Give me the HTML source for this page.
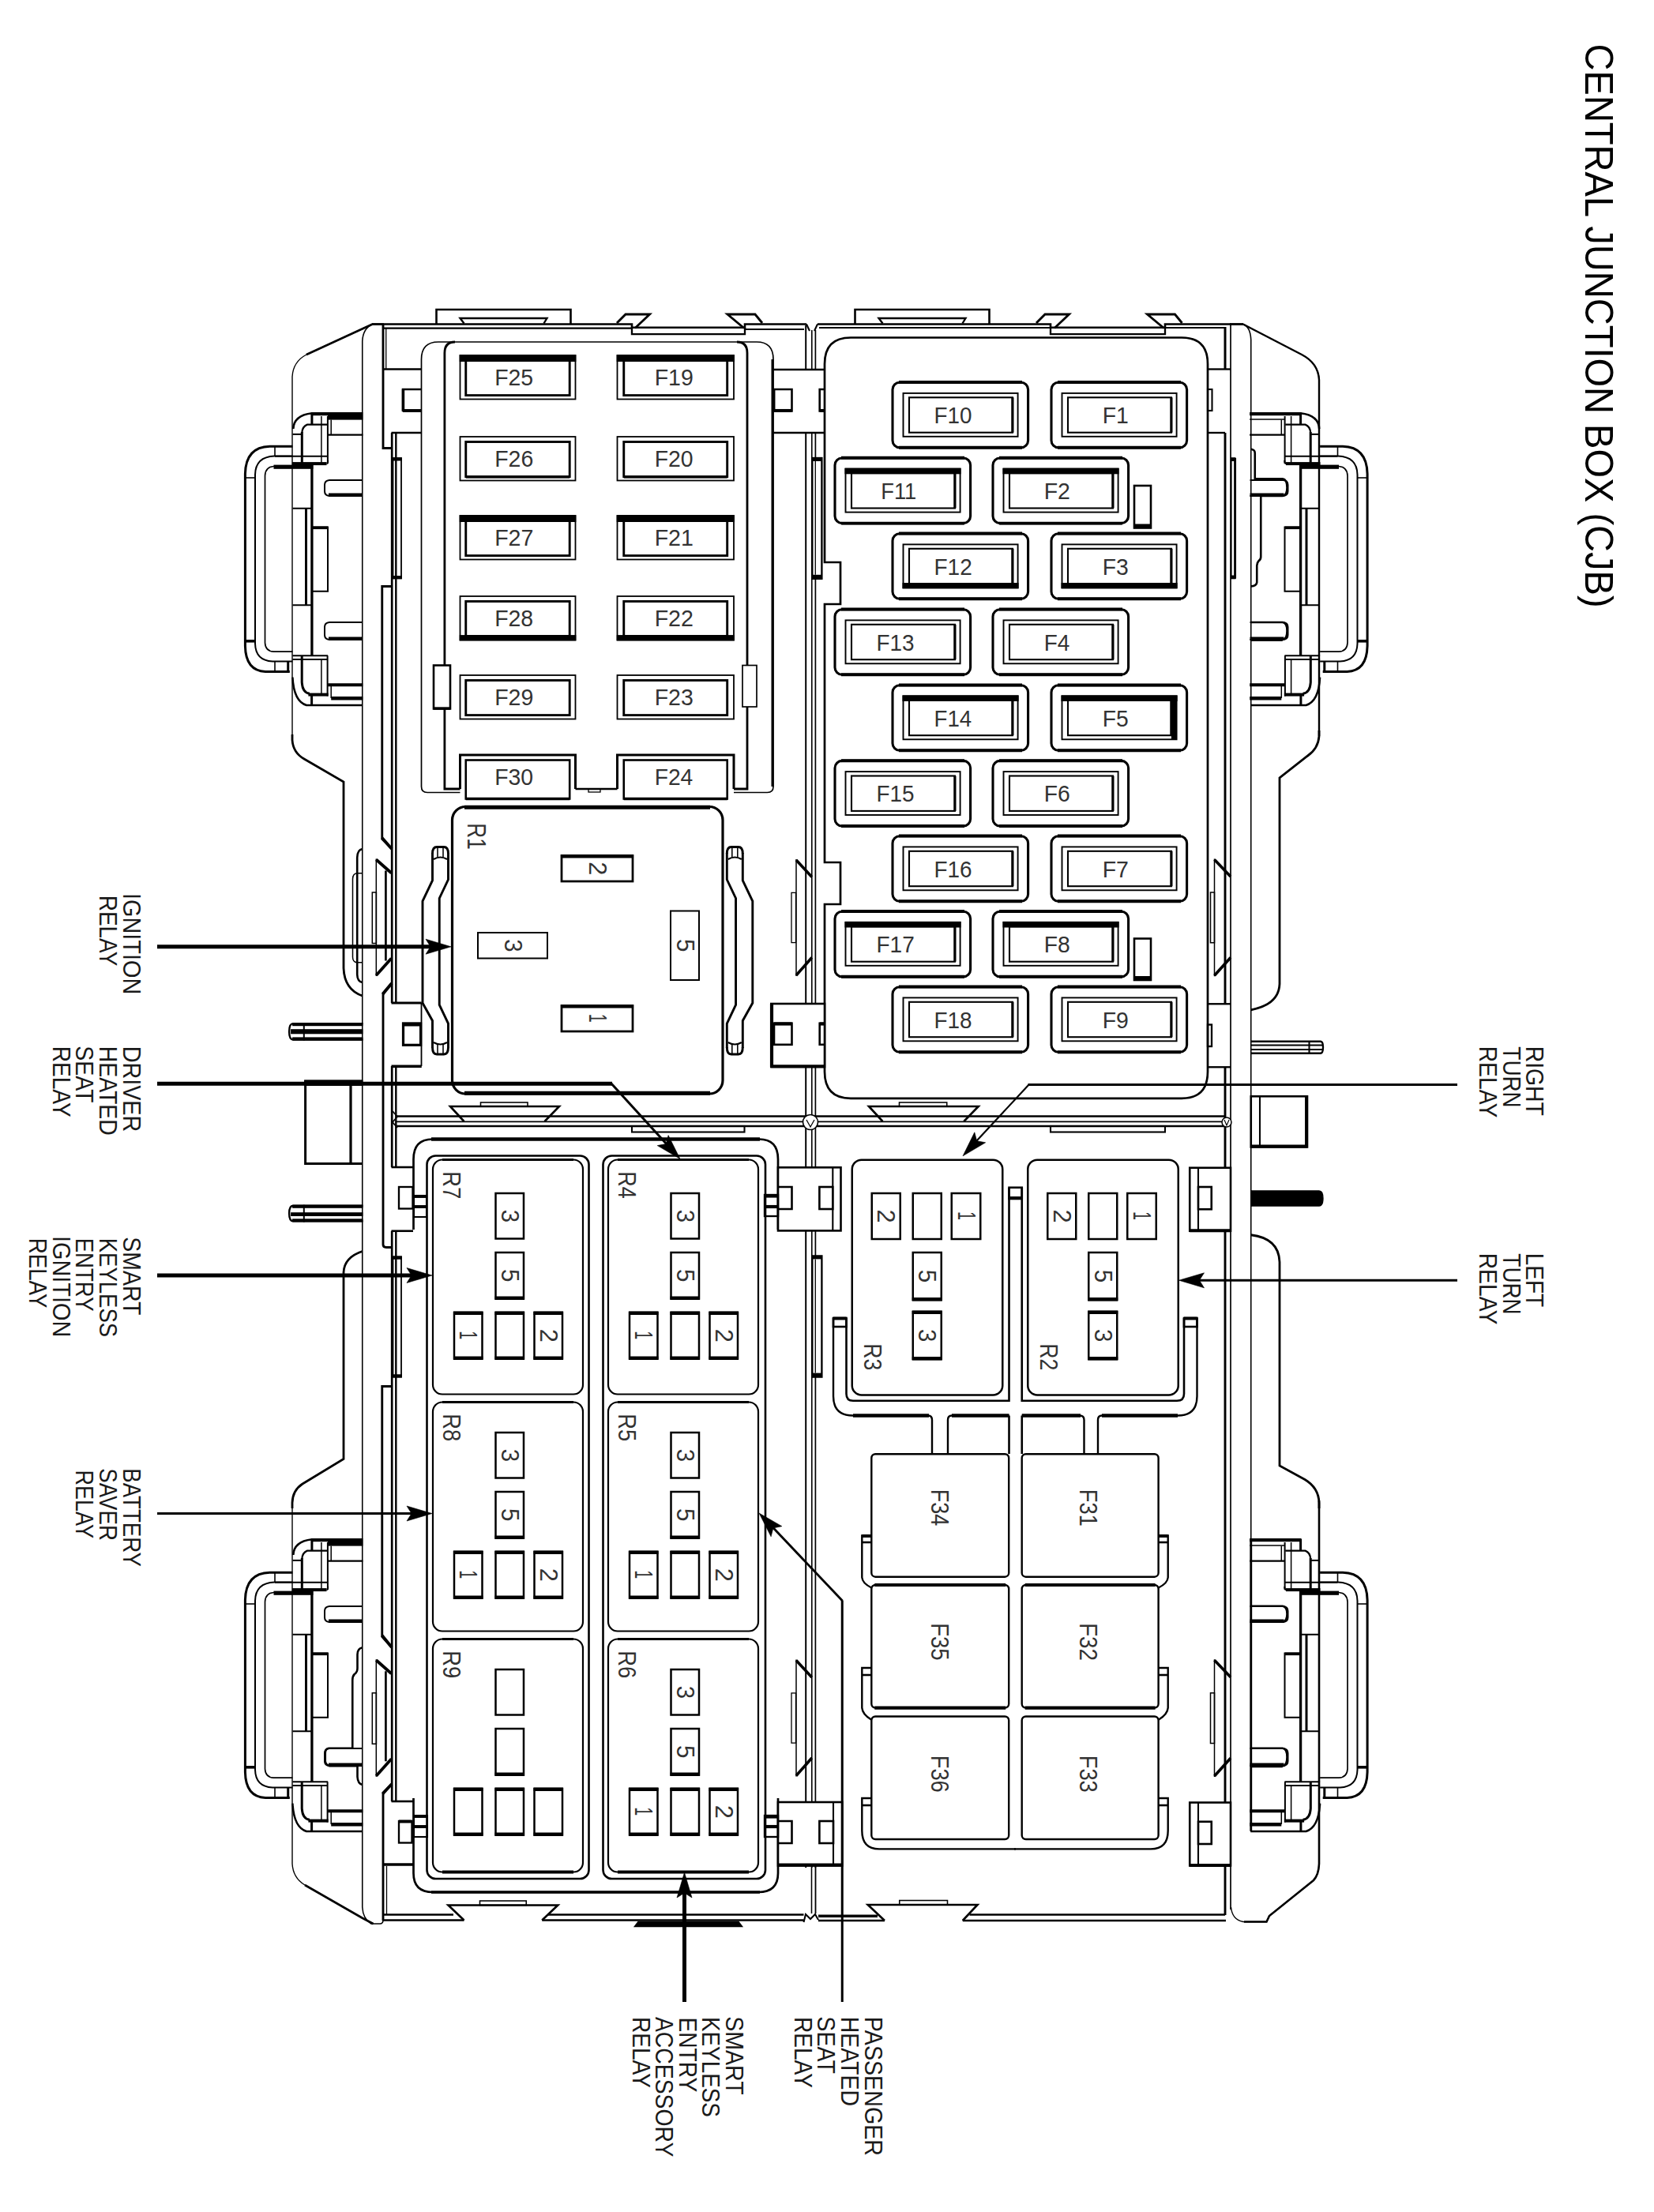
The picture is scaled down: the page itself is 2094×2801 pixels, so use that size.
<!DOCTYPE html>
<html><head><meta charset="utf-8"><title>Central Junction Box (CJB)</title>
<style>
html,body{margin:0;padding:0;background:#fff;}
body{width:2094px;height:2801px;overflow:hidden;font-family:"Liberation Sans",sans-serif;}
svg{display:block;}
svg text{font-family:"Liberation Sans",sans-serif;}
</style></head><body>
<svg width="2094" height="2801" viewBox="0 0 2094 2801" fill="none" stroke="#000" stroke-linecap="butt" stroke-linejoin="miter">
<rect x="0" y="0" width="2094" height="2801" fill="#fff" stroke="none"/>
<text transform="translate(2007.00 55.61) rotate(90) scale(0.9246 1)" font-size="50.87" fill="#000" stroke="none">CENTRAL JUNCTION BOX (CJB)</text>
<text transform="translate(156.00 1130.93) rotate(90) scale(0.9334 1)" font-size="30.96" fill="#1a1a1a" stroke="none">IGNITION</text>
<text transform="translate(126.20 1133.71) rotate(90) scale(0.9030 1)" font-size="30.96" fill="#1a1a1a" stroke="none">RELAY</text>
<text transform="translate(156.00 1324.64) rotate(90) scale(0.9292 1)" font-size="30.96" fill="#1a1a1a" stroke="none">DRIVER</text>
<text transform="translate(126.20 1324.67) rotate(90) scale(0.9182 1)" font-size="30.96" fill="#1a1a1a" stroke="none">HEATED</text>
<text transform="translate(96.40 1324.21) rotate(90) scale(0.9196 1)" font-size="30.96" fill="#1a1a1a" stroke="none">SEAT</text>
<text transform="translate(66.80 1324.70) rotate(90) scale(0.9062 1)" font-size="30.96" fill="#1a1a1a" stroke="none">RELAY</text>
<text transform="translate(156.00 1566.31) rotate(90) scale(0.9197 1)" font-size="30.96" fill="#1a1a1a" stroke="none">SMART</text>
<text transform="translate(126.20 1567.74) rotate(90) scale(0.8895 1)" font-size="30.96" fill="#1a1a1a" stroke="none">KEYLESS</text>
<text transform="translate(96.40 1567.74) rotate(90) scale(0.8898 1)" font-size="30.96" fill="#1a1a1a" stroke="none">ENTRY</text>
<text transform="translate(66.80 1564.93) rotate(90) scale(0.9334 1)" font-size="30.96" fill="#1a1a1a" stroke="none">IGNITION</text>
<text transform="translate(37.20 1567.73) rotate(90) scale(0.8937 1)" font-size="30.96" fill="#1a1a1a" stroke="none">RELAY</text>
<text transform="translate(156.00 1859.23) rotate(90) scale(0.8924 1)" font-size="30.96" fill="#1a1a1a" stroke="none">BATTERY</text>
<text transform="translate(126.20 1859.25) rotate(90) scale(0.8926 1)" font-size="30.96" fill="#1a1a1a" stroke="none">SAVER</text>
<text transform="translate(96.40 1861.49) rotate(90) scale(0.8718 1)" font-size="30.96" fill="#1a1a1a" stroke="none">RELAY</text>
<text transform="translate(1932.30 1324.67) rotate(90) scale(0.9166 1)" font-size="30.96" fill="#1a1a1a" stroke="none">RIGHT</text>
<text transform="translate(1902.50 1325.37) rotate(90) scale(0.9001 1)" font-size="30.96" fill="#1a1a1a" stroke="none">TURN</text>
<text transform="translate(1872.80 1324.68) rotate(90) scale(0.9145 1)" font-size="30.96" fill="#1a1a1a" stroke="none">RELAY</text>
<text transform="translate(1932.30 1586.70) rotate(90) scale(0.9042 1)" font-size="30.96" fill="#1a1a1a" stroke="none">LEFT</text>
<text transform="translate(1902.50 1587.37) rotate(90) scale(0.9001 1)" font-size="30.96" fill="#1a1a1a" stroke="none">TURN</text>
<text transform="translate(1872.80 1586.68) rotate(90) scale(0.9145 1)" font-size="30.96" fill="#1a1a1a" stroke="none">RELAY</text>
<text transform="translate(919.30 2553.30) rotate(90) scale(0.9216 1)" font-size="30.96" fill="#1a1a1a" stroke="none">SMART</text>
<text transform="translate(889.40 2553.91) rotate(90) scale(0.9004 1)" font-size="30.96" fill="#1a1a1a" stroke="none">KEYLESS</text>
<text transform="translate(859.50 2554.49) rotate(90) scale(0.9086 1)" font-size="30.96" fill="#1a1a1a" stroke="none">ENTRY</text>
<text transform="translate(830.00 2553.94) rotate(90) scale(0.9161 1)" font-size="30.96" fill="#1a1a1a" stroke="none">ACCESSORY</text>
<text transform="translate(800.70 2553.90) rotate(90) scale(0.9072 1)" font-size="30.96" fill="#1a1a1a" stroke="none">RELAY</text>
<text transform="translate(1094.60 2553.85) rotate(90) scale(0.9253 1)" font-size="30.96" fill="#1a1a1a" stroke="none">PASSENGER</text>
<text transform="translate(1065.10 2553.87) rotate(90) scale(0.9173 1)" font-size="30.96" fill="#1a1a1a" stroke="none">HEATED</text>
<text transform="translate(1035.20 2553.30) rotate(90) scale(0.9248 1)" font-size="30.96" fill="#1a1a1a" stroke="none">SEAT</text>
<text transform="translate(1005.80 2553.90) rotate(90) scale(0.9072 1)" font-size="30.96" fill="#1a1a1a" stroke="none">RELAY</text>
<path d="M582.5 1003.5 H541 Q533.5 1003.5 533.5 996 V455 Q533.5 433 555 433 H958 Q979 433 979 455 V996 Q979 1003.5 971.5 1003.5 H929" stroke-width="1.7" fill="none"/>
<path d="M576 433 Q562.9 433 562.9 447 V999 H582.5" stroke-width="2.8" fill="none"/>
<path d="M933 433 Q946 433 946 447 V999 H929" stroke-width="2.8" fill="none"/>
<line x1="728.5" y1="999" x2="781.5" y2="999" stroke-width="2.6"/>
<line x1="978" y1="455" x2="978" y2="996" stroke-width="3.0"/>
<rect x="745" y="999" width="15" height="4" stroke-width="1.3" fill="none"/>
<rect x="549" y="842.5" width="21" height="55.0" stroke-width="2.6" fill="#fff"/>
<line x1="549" y1="897" x2="570" y2="897" stroke-width="3.38"/>
<rect x="940" y="842.5" width="18" height="52.5" stroke-width="1.69" fill="#fff"/>
<rect x="582.5" y="450" width="146.0" height="55.5" stroke-width="1.8" fill="none"/>
<rect x="589.75" y="456.5" width="131.45" height="44.1" stroke-width="2.9" fill="none"/>
<rect x="581.7" y="449.2" width="147.6" height="8.8" fill="#000" stroke="none"/>
<text transform="translate(626.17 488.20) scale(0.9549 1)" font-size="29.80" fill="#333" stroke="none">F25</text>
<rect x="781.5" y="450" width="147.5" height="55.5" stroke-width="1.8" fill="none"/>
<rect x="789.75" y="456.5" width="130.95" height="44.1" stroke-width="2.9" fill="none"/>
<rect x="780.7" y="449.2" width="149.1" height="8.8" fill="#000" stroke="none"/>
<text transform="translate(828.66 488.20) scale(0.9581 1)" font-size="29.80" fill="#333" stroke="none">F19</text>
<rect x="582.5" y="553" width="146.0" height="55.5" stroke-width="1.8" fill="none"/>
<rect x="589.75" y="559.5" width="131.45" height="44.1" stroke-width="2.9" fill="none"/>
<rect x="589.75" y="602.6" width="131.45" height="3.0" fill="#000" stroke="none"/>
<text transform="translate(626.16 591.20) scale(0.9561 1)" font-size="29.80" fill="#333" stroke="none">F26</text>
<rect x="781.5" y="553" width="147.5" height="55.5" stroke-width="1.8" fill="none"/>
<rect x="789.75" y="559.5" width="130.95" height="44.1" stroke-width="2.9" fill="none"/>
<rect x="789.75" y="602.6" width="130.95" height="3.0" fill="#000" stroke="none"/>
<text transform="translate(828.67 591.20) scale(0.9532 1)" font-size="29.80" fill="#333" stroke="none">F20</text>
<rect x="582.5" y="653" width="146.0" height="55.5" stroke-width="1.8" fill="none"/>
<rect x="589.75" y="659.5" width="131.45" height="44.1" stroke-width="2.9" fill="none"/>
<rect x="581.7" y="652.2" width="147.6" height="8.8" fill="#000" stroke="none"/>
<text transform="translate(626.15 691.20) scale(0.9599 1)" font-size="29.80" fill="#333" stroke="none">F27</text>
<rect x="781.5" y="653" width="147.5" height="55.5" stroke-width="1.8" fill="none"/>
<rect x="789.75" y="659.5" width="130.95" height="44.1" stroke-width="2.9" fill="none"/>
<rect x="780.7" y="652.2" width="149.1" height="8.8" fill="#000" stroke="none"/>
<text transform="translate(828.66 691.20) scale(0.9590 1)" font-size="29.80" fill="#333" stroke="none">F21</text>
<rect x="582.5" y="755" width="146.0" height="55.5" stroke-width="1.8" fill="none"/>
<rect x="589.75" y="761.5" width="131.45" height="44.1" stroke-width="2.9" fill="none"/>
<rect x="581.7" y="804.1" width="147.6" height="7.2" fill="#000" stroke="none"/>
<text transform="translate(626.16 793.20) scale(0.9558 1)" font-size="29.80" fill="#333" stroke="none">F28</text>
<rect x="781.5" y="755" width="147.5" height="55.5" stroke-width="1.8" fill="none"/>
<rect x="789.75" y="761.5" width="130.95" height="44.1" stroke-width="2.9" fill="none"/>
<rect x="780.7" y="804.1" width="149.1" height="7.2" fill="#000" stroke="none"/>
<text transform="translate(828.65 793.20) scale(0.9599 1)" font-size="29.80" fill="#333" stroke="none">F22</text>
<rect x="582.5" y="855" width="146.0" height="55.5" stroke-width="1.8" fill="none"/>
<rect x="589.75" y="861.5" width="131.45" height="44.1" stroke-width="2.9" fill="none"/>
<text transform="translate(626.16 893.20) scale(0.9581 1)" font-size="29.80" fill="#333" stroke="none">F29</text>
<rect x="781.5" y="855" width="147.5" height="55.5" stroke-width="1.8" fill="none"/>
<rect x="789.75" y="861.5" width="130.95" height="44.1" stroke-width="2.9" fill="none"/>
<text transform="translate(828.66 893.20) scale(0.9561 1)" font-size="29.80" fill="#333" stroke="none">F23</text>
<path d="M582.5 999 V956 H728.5 V999" stroke-width="3.0" fill="none"/>
<rect x="589.75" y="962.5" width="131.45" height="49.0" stroke-width="2.6" fill="none"/>
<line x1="589.75" y1="1011.5" x2="721.2" y2="1011.5" stroke-width="3.6"/>
<text transform="translate(626.17 994.20) scale(0.9532 1)" font-size="29.80" fill="#333" stroke="none">F30</text>
<path d="M781.5 999 V956 H929 V999" stroke-width="3.0" fill="none"/>
<rect x="789.75" y="962.5" width="130.95" height="49.0" stroke-width="2.6" fill="none"/>
<line x1="789.75" y1="1011.5" x2="920.7" y2="1011.5" stroke-width="3.6"/>
<text transform="translate(828.68 994.20) scale(0.9474 1)" font-size="29.80" fill="#333" stroke="none">F24</text>
<rect x="572.5" y="1021.5" width="342.5" height="363.5" rx="17" stroke-width="3.2" fill="none"/>
<line x1="588" y1="1022.3" x2="899" y2="1022.3" stroke-width="5.0"/>
<line x1="588" y1="1384.3" x2="899" y2="1384.3" stroke-width="5.0"/>
<rect x="711" y="1083.5" width="90" height="32.5" stroke-width="2.75" fill="none"/>
<line x1="709.9423076923077" y1="1084.2" x2="802.0576923076923" y2="1084.2" stroke-width="4.4"/>
<text transform="translate(745.50 1091.20) rotate(90) scale(1.0068 1)" font-size="30.52" fill="#333" stroke="none">2</text>
<rect x="711" y="1273.5" width="90" height="32.5" stroke-width="2.75" fill="none"/>
<line x1="709.9423076923077" y1="1274.2" x2="802.0576923076923" y2="1274.2" stroke-width="4.4"/>
<text transform="translate(745.50 1283.75) rotate(90) scale(0.6459 1)" font-size="30.52" fill="#333" stroke="none">1</text>
<rect x="605" y="1181" width="88" height="32.5" stroke-width="2.0" fill="none"/>
<text transform="translate(638.50 1189.13) rotate(90) scale(0.9674 1)" font-size="30.52" fill="#333" stroke="none">3</text>
<rect x="849" y="1153.5" width="36" height="87.5" stroke-width="2.0" fill="none"/>
<text transform="translate(856.50 1189.07) rotate(90) scale(0.9674 1)" font-size="30.52" fill="#333" stroke="none">5</text>
<text transform="translate(592.00 1042.36) rotate(90) scale(0.7821 1)" font-size="33.43" fill="#333" stroke="none">R1</text>
<path d="M547.5 1080 L547.5 1115 L535 1141 L535 1270 L547.5 1292.5 L547.5 1327" stroke-width="2.9" fill="none"/>
<path d="M567.5 1080 L567.5 1113.75 L556.25 1137.5 L556.25 1272.5 L567.5 1296 L567.5 1327" stroke-width="2.9" fill="none"/>
<path d="M547.5 1081 Q547.5 1072.5 553 1072.5 H562 Q567.5 1072.5 567.5 1081" stroke-width="2.9" fill="none"/>
<path d="M547.5 1326 Q547.5 1335 553 1335 H562 Q567.5 1335 567.5 1326" stroke-width="2.9" fill="none"/>
<path d="M549 1088 Q557.5 1083 566 1088" stroke-width="2.08" fill="none"/>
<path d="M549 1320 Q557.5 1325 566 1320" stroke-width="2.08" fill="none"/>
<line x1="554" y1="1073" x2="554" y2="1085" stroke-width="1.56"/>
<line x1="561" y1="1073" x2="561" y2="1085" stroke-width="1.56"/>
<line x1="554" y1="1323" x2="554" y2="1334.5" stroke-width="1.56"/>
<line x1="561" y1="1323" x2="561" y2="1334.5" stroke-width="1.56"/>
<path d="M940.3 1080 L940.3 1115 L952.8 1141 L952.8 1270 L940.3 1292.5 L940.3 1327" stroke-width="2.9" fill="none"/>
<path d="M920.3 1080 L920.3 1113.75 L931.55 1137.5 L931.55 1272.5 L920.3 1296 L920.3 1327" stroke-width="2.9" fill="none"/>
<path d="M940.3 1081 Q940.3 1072.5 934.8 1072.5 H925.8 Q920.3 1072.5 920.3 1081" stroke-width="2.9" fill="none"/>
<path d="M940.3 1326 Q940.3 1335 934.8 1335 H925.8 Q920.3 1335 920.3 1326" stroke-width="2.9" fill="none"/>
<path d="M938.8 1088 Q930.3 1083 921.8 1088" stroke-width="2.08" fill="none"/>
<path d="M938.8 1320 Q930.3 1325 921.8 1320" stroke-width="2.08" fill="none"/>
<line x1="933.8" y1="1073" x2="933.8" y2="1085" stroke-width="1.56"/>
<line x1="926.8" y1="1073" x2="926.8" y2="1085" stroke-width="1.56"/>
<line x1="933.8" y1="1323" x2="933.8" y2="1334.5" stroke-width="1.56"/>
<line x1="926.8" y1="1323" x2="926.8" y2="1334.5" stroke-width="1.56"/>
<path d="M1077 1390.8 Q1044 1390.8 1044 1357 V1145 H1064 V1092 H1044 V765 H1064 V712 H1044 V461 Q1044 427.5 1077 427.5 H1496 Q1529 427.5 1529 461 V1357 Q1529 1390.8 1496 1390.8 Z" stroke-width="2.7" fill="none"/>
<rect x="1130" y="484.2" width="171.6" height="82.6" rx="9" stroke-width="3.1" fill="none"/>
<line x1="1138" y1="484.0" x2="1294" y2="484.0" stroke-width="3.9"/>
<line x1="1138" y1="566.8" x2="1294" y2="566.8" stroke-width="3.9"/>
<rect x="1143.5" y="497.9" width="145.1" height="54.9" stroke-width="1.9" fill="none"/>
<rect x="1151" y="503.3" width="130.9" height="44.4" stroke-width="2.1" fill="none"/>
<line x1="1281.9" y1="503.3" x2="1281.9" y2="547.7" stroke-width="3.2"/>
<text transform="translate(1182.52 536.00) scale(0.9343 1)" font-size="29.80" fill="#333" stroke="none">F10</text>
<rect x="1331" y="484.2" width="171.6" height="82.6" rx="9" stroke-width="3.1" fill="none"/>
<line x1="1339" y1="484.0" x2="1495" y2="484.0" stroke-width="3.9"/>
<line x1="1339" y1="566.8" x2="1495" y2="566.8" stroke-width="3.9"/>
<rect x="1344.5" y="497.9" width="145.1" height="54.9" stroke-width="1.9" fill="none"/>
<rect x="1352" y="503.3" width="130.9" height="44.4" stroke-width="2.1" fill="none"/>
<line x1="1482.9" y1="503.3" x2="1482.9" y2="547.7" stroke-width="3.2"/>
<text transform="translate(1395.66 536.00) scale(0.9555 1)" font-size="29.80" fill="#333" stroke="none">F1</text>
<rect x="1057" y="580.0" width="171.6" height="82.6" rx="9" stroke-width="3.1" fill="none"/>
<line x1="1065" y1="579.8" x2="1221" y2="579.8" stroke-width="3.9"/>
<line x1="1065" y1="662.5999999999999" x2="1221" y2="662.5999999999999" stroke-width="3.9"/>
<rect x="1070.5" y="593.6999999999999" width="145.1" height="54.9" stroke-width="1.9" fill="none"/>
<rect x="1078" y="599.0999999999999" width="130.9" height="44.4" stroke-width="2.1" fill="none"/>
<line x1="1208.9" y1="599.0999999999999" x2="1208.9" y2="643.5" stroke-width="3.2"/>
<rect x="1069.5" y="592.6999999999999" width="147.1" height="7.6" fill="#000" stroke="none"/>
<text transform="translate(1115.26 631.80) scale(0.9175 1)" font-size="29.80" fill="#333" stroke="none">F11</text>
<rect x="1257" y="580.0" width="171.6" height="82.6" rx="9" stroke-width="3.1" fill="none"/>
<line x1="1265" y1="579.8" x2="1421" y2="579.8" stroke-width="3.9"/>
<line x1="1265" y1="662.5999999999999" x2="1421" y2="662.5999999999999" stroke-width="3.9"/>
<rect x="1270.5" y="593.6999999999999" width="145.1" height="54.9" stroke-width="1.9" fill="none"/>
<rect x="1278" y="599.0999999999999" width="130.9" height="44.4" stroke-width="2.1" fill="none"/>
<line x1="1408.9" y1="599.0999999999999" x2="1408.9" y2="643.5" stroke-width="3.2"/>
<rect x="1269.5" y="592.6999999999999" width="147.1" height="7.6" fill="#000" stroke="none"/>
<text transform="translate(1321.66 631.80) scale(0.9569 1)" font-size="29.80" fill="#333" stroke="none">F2</text>
<rect x="1130" y="675.7" width="171.6" height="82.6" rx="9" stroke-width="3.1" fill="none"/>
<line x1="1138" y1="675.5" x2="1294" y2="675.5" stroke-width="3.9"/>
<line x1="1138" y1="758.3" x2="1294" y2="758.3" stroke-width="3.9"/>
<rect x="1143.5" y="689.4" width="145.1" height="54.9" stroke-width="1.9" fill="none"/>
<rect x="1151" y="694.8" width="130.9" height="44.4" stroke-width="2.1" fill="none"/>
<line x1="1281.9" y1="694.8" x2="1281.9" y2="739.2" stroke-width="3.2"/>
<rect x="1142.5" y="738.0" width="147.1" height="7.3" fill="#000" stroke="none"/>
<text transform="translate(1182.50 727.50) scale(0.9409 1)" font-size="29.80" fill="#333" stroke="none">F12</text>
<rect x="1331" y="675.7" width="171.6" height="82.6" rx="9" stroke-width="3.1" fill="none"/>
<line x1="1339" y1="675.5" x2="1495" y2="675.5" stroke-width="3.9"/>
<line x1="1339" y1="758.3" x2="1495" y2="758.3" stroke-width="3.9"/>
<rect x="1344.5" y="689.4" width="145.1" height="54.9" stroke-width="1.9" fill="none"/>
<rect x="1352" y="694.8" width="130.9" height="44.4" stroke-width="2.1" fill="none"/>
<line x1="1482.9" y1="694.8" x2="1482.9" y2="739.2" stroke-width="3.2"/>
<rect x="1343.5" y="738.0" width="147.1" height="7.3" fill="#000" stroke="none"/>
<text transform="translate(1395.68 727.50) scale(0.9510 1)" font-size="29.80" fill="#333" stroke="none">F3</text>
<rect x="1057" y="771.7" width="171.6" height="82.6" rx="9" stroke-width="3.1" fill="none"/>
<line x1="1065" y1="771.5" x2="1221" y2="771.5" stroke-width="3.9"/>
<line x1="1065" y1="854.3" x2="1221" y2="854.3" stroke-width="3.9"/>
<rect x="1070.5" y="785.4" width="145.1" height="54.9" stroke-width="1.9" fill="none"/>
<rect x="1078" y="790.8" width="130.9" height="44.4" stroke-width="2.1" fill="none"/>
<line x1="1208.9" y1="790.8" x2="1208.9" y2="835.2" stroke-width="3.2"/>
<text transform="translate(1109.51 823.50) scale(0.9372 1)" font-size="29.80" fill="#333" stroke="none">F13</text>
<rect x="1257" y="771.7" width="171.6" height="82.6" rx="9" stroke-width="3.1" fill="none"/>
<line x1="1265" y1="771.5" x2="1421" y2="771.5" stroke-width="3.9"/>
<line x1="1265" y1="854.3" x2="1421" y2="854.3" stroke-width="3.9"/>
<rect x="1270.5" y="785.4" width="145.1" height="54.9" stroke-width="1.9" fill="none"/>
<rect x="1278" y="790.8" width="130.9" height="44.4" stroke-width="2.1" fill="none"/>
<line x1="1408.9" y1="790.8" x2="1408.9" y2="835.2" stroke-width="3.2"/>
<text transform="translate(1321.71 823.50) scale(0.9378 1)" font-size="29.80" fill="#333" stroke="none">F4</text>
<rect x="1130" y="867.7" width="171.6" height="82.6" rx="9" stroke-width="3.1" fill="none"/>
<line x1="1138" y1="867.5" x2="1294" y2="867.5" stroke-width="3.9"/>
<line x1="1138" y1="950.3" x2="1294" y2="950.3" stroke-width="3.9"/>
<rect x="1143.5" y="881.4" width="145.1" height="54.9" stroke-width="1.9" fill="none"/>
<rect x="1151" y="886.8" width="130.9" height="44.4" stroke-width="2.1" fill="none"/>
<line x1="1281.9" y1="886.8" x2="1281.9" y2="931.2" stroke-width="3.2"/>
<rect x="1142.5" y="880.4" width="147.1" height="7.6" fill="#000" stroke="none"/>
<text transform="translate(1182.53 919.50) scale(0.9286 1)" font-size="29.80" fill="#333" stroke="none">F14</text>
<rect x="1331" y="867.7" width="171.6" height="82.6" rx="9" stroke-width="3.1" fill="none"/>
<line x1="1339" y1="867.5" x2="1495" y2="867.5" stroke-width="3.9"/>
<line x1="1339" y1="950.3" x2="1495" y2="950.3" stroke-width="3.9"/>
<rect x="1344.5" y="881.4" width="145.1" height="54.9" stroke-width="1.9" fill="none"/>
<rect x="1352" y="886.8" width="130.9" height="44.4" stroke-width="2.1" fill="none"/>
<line x1="1482.9" y1="886.8" x2="1482.9" y2="931.2" stroke-width="3.2"/>
<rect x="1343.5" y="880.4" width="147.1" height="7.6" fill="#000" stroke="none"/>
<rect x="1482.9" y="886.8" width="6.7" height="49.5" fill="#000" stroke="none"/>
<text transform="translate(1395.68 919.50) scale(0.9493 1)" font-size="29.80" fill="#333" stroke="none">F5</text>
<rect x="1057" y="963.4000000000001" width="171.6" height="82.6" rx="9" stroke-width="3.1" fill="none"/>
<line x1="1065" y1="963.2" x2="1221" y2="963.2" stroke-width="3.9"/>
<line x1="1065" y1="1046.0" x2="1221" y2="1046.0" stroke-width="3.9"/>
<rect x="1070.5" y="977.1" width="145.1" height="54.9" stroke-width="1.9" fill="none"/>
<rect x="1078" y="982.5" width="130.9" height="44.4" stroke-width="2.1" fill="none"/>
<line x1="1208.9" y1="982.5" x2="1208.9" y2="1026.9" stroke-width="3.2"/>
<text transform="translate(1109.51 1015.20) scale(0.9360 1)" font-size="29.80" fill="#333" stroke="none">F15</text>
<rect x="1257" y="963.4000000000001" width="171.6" height="82.6" rx="9" stroke-width="3.1" fill="none"/>
<line x1="1265" y1="963.2" x2="1421" y2="963.2" stroke-width="3.9"/>
<line x1="1265" y1="1046.0" x2="1421" y2="1046.0" stroke-width="3.9"/>
<rect x="1270.5" y="977.1" width="145.1" height="54.9" stroke-width="1.9" fill="none"/>
<rect x="1278" y="982.5" width="130.9" height="44.4" stroke-width="2.1" fill="none"/>
<line x1="1408.9" y1="982.5" x2="1408.9" y2="1026.9" stroke-width="3.2"/>
<text transform="translate(1321.68 1015.20) scale(0.9510 1)" font-size="29.80" fill="#333" stroke="none">F6</text>
<rect x="1130" y="1058.7" width="171.6" height="82.6" rx="9" stroke-width="3.1" fill="none"/>
<line x1="1138" y1="1058.5" x2="1294" y2="1058.5" stroke-width="3.9"/>
<line x1="1138" y1="1141.3" x2="1294" y2="1141.3" stroke-width="3.9"/>
<rect x="1143.5" y="1072.4" width="145.1" height="54.9" stroke-width="1.9" fill="none"/>
<rect x="1151" y="1077.8" width="130.9" height="44.4" stroke-width="2.1" fill="none"/>
<line x1="1281.9" y1="1077.8" x2="1281.9" y2="1122.2" stroke-width="3.2"/>
<text transform="translate(1182.51 1110.50) scale(0.9372 1)" font-size="29.80" fill="#333" stroke="none">F16</text>
<rect x="1331" y="1058.7" width="171.6" height="82.6" rx="9" stroke-width="3.1" fill="none"/>
<line x1="1339" y1="1058.5" x2="1495" y2="1058.5" stroke-width="3.9"/>
<line x1="1339" y1="1141.3" x2="1495" y2="1141.3" stroke-width="3.9"/>
<rect x="1344.5" y="1072.4" width="145.1" height="54.9" stroke-width="1.9" fill="none"/>
<rect x="1352" y="1077.8" width="130.9" height="44.4" stroke-width="2.1" fill="none"/>
<line x1="1482.9" y1="1077.8" x2="1482.9" y2="1122.2" stroke-width="3.2"/>
<text transform="translate(1395.66 1110.50) scale(0.9569 1)" font-size="29.80" fill="#333" stroke="none">F7</text>
<rect x="1057" y="1154.2" width="171.6" height="82.6" rx="9" stroke-width="3.1" fill="none"/>
<line x1="1065" y1="1154.0" x2="1221" y2="1154.0" stroke-width="3.9"/>
<line x1="1065" y1="1236.8" x2="1221" y2="1236.8" stroke-width="3.9"/>
<rect x="1070.5" y="1167.9" width="145.1" height="54.9" stroke-width="1.9" fill="none"/>
<rect x="1078" y="1173.3" width="130.9" height="44.4" stroke-width="2.1" fill="none"/>
<line x1="1208.9" y1="1173.3" x2="1208.9" y2="1217.7" stroke-width="3.2"/>
<rect x="1069.5" y="1166.9" width="147.1" height="7.6" fill="#000" stroke="none"/>
<text transform="translate(1109.50 1206.00) scale(0.9409 1)" font-size="29.80" fill="#333" stroke="none">F17</text>
<rect x="1257" y="1154.2" width="171.6" height="82.6" rx="9" stroke-width="3.1" fill="none"/>
<line x1="1265" y1="1154.0" x2="1421" y2="1154.0" stroke-width="3.9"/>
<line x1="1265" y1="1236.8" x2="1421" y2="1236.8" stroke-width="3.9"/>
<rect x="1270.5" y="1167.9" width="145.1" height="54.9" stroke-width="1.9" fill="none"/>
<rect x="1278" y="1173.3" width="130.9" height="44.4" stroke-width="2.1" fill="none"/>
<line x1="1408.9" y1="1173.3" x2="1408.9" y2="1217.7" stroke-width="3.2"/>
<rect x="1269.5" y="1166.9" width="147.1" height="7.6" fill="#000" stroke="none"/>
<text transform="translate(1321.68 1206.00) scale(0.9506 1)" font-size="29.80" fill="#333" stroke="none">F8</text>
<rect x="1130" y="1249.7" width="171.6" height="82.6" rx="9" stroke-width="3.1" fill="none"/>
<line x1="1138" y1="1249.5" x2="1294" y2="1249.5" stroke-width="3.9"/>
<line x1="1138" y1="1332.3" x2="1294" y2="1332.3" stroke-width="3.9"/>
<rect x="1143.5" y="1263.4" width="145.1" height="54.9" stroke-width="1.9" fill="none"/>
<rect x="1151" y="1268.8" width="130.9" height="44.4" stroke-width="2.1" fill="none"/>
<line x1="1281.9" y1="1268.8" x2="1281.9" y2="1313.2" stroke-width="3.2"/>
<text transform="translate(1182.51 1301.50) scale(0.9369 1)" font-size="29.80" fill="#333" stroke="none">F18</text>
<rect x="1331" y="1249.7" width="171.6" height="82.6" rx="9" stroke-width="3.1" fill="none"/>
<line x1="1339" y1="1249.5" x2="1495" y2="1249.5" stroke-width="3.9"/>
<line x1="1339" y1="1332.3" x2="1495" y2="1332.3" stroke-width="3.9"/>
<rect x="1344.5" y="1263.4" width="145.1" height="54.9" stroke-width="1.9" fill="none"/>
<rect x="1352" y="1268.8" width="130.9" height="44.4" stroke-width="2.1" fill="none"/>
<line x1="1482.9" y1="1268.8" x2="1482.9" y2="1313.2" stroke-width="3.2"/>
<text transform="translate(1395.67 1301.50) scale(0.9542 1)" font-size="29.80" fill="#333" stroke="none">F9</text>
<rect x="1436" y="615" width="21" height="53.5" stroke-width="2.6" fill="none"/>
<rect x="1436" y="663.5" width="21" height="5.0" fill="#000" stroke="none"/>
<rect x="1436" y="1188.5" width="21" height="52.5" stroke-width="2.6" fill="none"/>
<rect x="1436" y="1236" width="21" height="5" fill="#000" stroke="none"/>
<path d="M523.5 1557 V1468 Q523.5 1442.5 547.5 1442.5 H961 Q985 1442.5 985 1468 V1557" stroke-width="2.7" fill="none"/>
<line x1="546" y1="1442.5" x2="962" y2="1442.5" stroke-width="4.7"/>
<path d="M523.5 2277 V2372 Q523.5 2396 548 2396 H960 Q985 2396 985 2372 V2277" stroke-width="2.7" fill="none"/>
<line x1="546" y1="2396" x2="962" y2="2396" stroke-width="3.6"/>
<rect x="540.5" y="1463.5" width="205.0" height="915.5" rx="11" stroke-width="2.6" fill="none"/>
<rect x="763.5" y="1463.5" width="205.5" height="915.5" rx="11" stroke-width="2.6" fill="none"/>
<line x1="560" y1="2370.5" x2="726" y2="2370.5" stroke-width="4.0"/>
<line x1="782" y1="2370.5" x2="948" y2="2370.5" stroke-width="4.0"/>
<rect x="548" y="1468.5" width="190" height="297.0" rx="12" stroke-width="2.2" fill="none"/>
<line x1="560" y1="1468.5" x2="726" y2="1468.5" stroke-width="2.8"/>
<rect x="627.5" y="1511" width="35.5" height="57.5" stroke-width="2.5" fill="none"/>
<text transform="translate(634.75 1531.63) rotate(90) scale(0.9674 1)" font-size="30.52" fill="#333" stroke="none">3</text>
<rect x="627.5" y="1586" width="35.5" height="58.5" stroke-width="2.5" fill="none"/>
<line x1="626.5384615384615" y1="1643.8" x2="663.9615384615385" y2="1643.8" stroke-width="4.4"/>
<text transform="translate(634.75 1607.07) rotate(90) scale(0.9674 1)" font-size="30.52" fill="#333" stroke="none">5</text>
<rect x="575" y="1662" width="35.5" height="58.5" stroke-width="2.5" fill="none"/>
<line x1="574.0384615384615" y1="1662.7" x2="611.4615384615385" y2="1662.7" stroke-width="4.4"/>
<line x1="574.0384615384615" y1="1719.8" x2="611.4615384615385" y2="1719.8" stroke-width="4.4"/>
<text transform="translate(582.25 1685.25) rotate(90) scale(0.6459 1)" font-size="30.52" fill="#333" stroke="none">1</text>
<rect x="627.5" y="1662" width="35.5" height="58.5" stroke-width="2.5" fill="none"/>
<line x1="626.5384615384615" y1="1662.7" x2="663.9615384615385" y2="1662.7" stroke-width="4.4"/>
<line x1="626.5384615384615" y1="1719.8" x2="663.9615384615385" y2="1719.8" stroke-width="4.4"/>
<rect x="676.5" y="1662" width="35.5" height="58.5" stroke-width="2.5" fill="none"/>
<line x1="675.5384615384615" y1="1662.7" x2="712.9615384615385" y2="1662.7" stroke-width="4.4"/>
<line x1="675.5384615384615" y1="1719.8" x2="712.9615384615385" y2="1719.8" stroke-width="4.4"/>
<text transform="translate(683.75 1682.70) rotate(90) scale(1.0068 1)" font-size="30.52" fill="#333" stroke="none">2</text>
<text transform="translate(561.00 1483.25) rotate(90) scale(0.8796 1)" font-size="31.25" fill="#333" stroke="none">R7</text>
<rect x="548" y="1775.5" width="190" height="290.0" rx="12" stroke-width="2.2" fill="none"/>
<line x1="560" y1="1775.5" x2="726" y2="1775.5" stroke-width="2.8"/>
<rect x="627.5" y="1814" width="35.5" height="57.5" stroke-width="2.5" fill="none"/>
<text transform="translate(634.75 1834.63) rotate(90) scale(0.9674 1)" font-size="30.52" fill="#333" stroke="none">3</text>
<rect x="627.5" y="1889" width="35.5" height="58.5" stroke-width="2.5" fill="none"/>
<line x1="626.5384615384615" y1="1946.8" x2="663.9615384615385" y2="1946.8" stroke-width="4.4"/>
<text transform="translate(634.75 1910.07) rotate(90) scale(0.9674 1)" font-size="30.52" fill="#333" stroke="none">5</text>
<rect x="575" y="1965" width="35.5" height="58.5" stroke-width="2.5" fill="none"/>
<line x1="574.0384615384615" y1="1965.7" x2="611.4615384615385" y2="1965.7" stroke-width="4.4"/>
<line x1="574.0384615384615" y1="2022.8" x2="611.4615384615385" y2="2022.8" stroke-width="4.4"/>
<text transform="translate(582.25 1988.25) rotate(90) scale(0.6459 1)" font-size="30.52" fill="#333" stroke="none">1</text>
<rect x="627.5" y="1965" width="35.5" height="58.5" stroke-width="2.5" fill="none"/>
<line x1="626.5384615384615" y1="1965.7" x2="663.9615384615385" y2="1965.7" stroke-width="4.4"/>
<line x1="626.5384615384615" y1="2022.8" x2="663.9615384615385" y2="2022.8" stroke-width="4.4"/>
<rect x="676.5" y="1965" width="35.5" height="58.5" stroke-width="2.5" fill="none"/>
<line x1="675.5384615384615" y1="1965.7" x2="712.9615384615385" y2="1965.7" stroke-width="4.4"/>
<line x1="675.5384615384615" y1="2022.8" x2="712.9615384615385" y2="2022.8" stroke-width="4.4"/>
<text transform="translate(683.75 1985.70) rotate(90) scale(1.0068 1)" font-size="30.52" fill="#333" stroke="none">2</text>
<text transform="translate(561.00 1790.26) rotate(90) scale(0.8744 1)" font-size="31.25" fill="#333" stroke="none">R8</text>
<rect x="548" y="2075.5" width="190" height="295.0" rx="12" stroke-width="2.2" fill="none"/>
<line x1="560" y1="2075.5" x2="726" y2="2075.5" stroke-width="2.8"/>
<rect x="627.5" y="2114" width="35.5" height="57.5" stroke-width="2.5" fill="none"/>
<rect x="627.5" y="2189" width="35.5" height="58.5" stroke-width="2.5" fill="none"/>
<line x1="626.5384615384615" y1="2246.8" x2="663.9615384615385" y2="2246.8" stroke-width="4.4"/>
<rect x="575" y="2265" width="35.5" height="58.5" stroke-width="2.5" fill="none"/>
<line x1="574.0384615384615" y1="2265.7" x2="611.4615384615385" y2="2265.7" stroke-width="4.4"/>
<line x1="574.0384615384615" y1="2322.8" x2="611.4615384615385" y2="2322.8" stroke-width="4.4"/>
<rect x="627.5" y="2265" width="35.5" height="58.5" stroke-width="2.5" fill="none"/>
<line x1="626.5384615384615" y1="2265.7" x2="663.9615384615385" y2="2265.7" stroke-width="4.4"/>
<line x1="626.5384615384615" y1="2322.8" x2="663.9615384615385" y2="2322.8" stroke-width="4.4"/>
<rect x="676.5" y="2265" width="35.5" height="58.5" stroke-width="2.5" fill="none"/>
<line x1="675.5384615384615" y1="2265.7" x2="712.9615384615385" y2="2265.7" stroke-width="4.4"/>
<line x1="675.5384615384615" y1="2322.8" x2="712.9615384615385" y2="2322.8" stroke-width="4.4"/>
<text transform="translate(561.00 2090.25) rotate(90) scale(0.8773 1)" font-size="31.25" fill="#333" stroke="none">R9</text>
<rect x="770" y="1468.5" width="190" height="297.0" rx="12" stroke-width="2.2" fill="none"/>
<line x1="782" y1="1468.5" x2="948" y2="1468.5" stroke-width="2.8"/>
<rect x="849.5" y="1511" width="35.5" height="57.5" stroke-width="2.5" fill="none"/>
<text transform="translate(856.75 1531.63) rotate(90) scale(0.9674 1)" font-size="30.52" fill="#333" stroke="none">3</text>
<rect x="849.5" y="1586" width="35.5" height="58.5" stroke-width="2.5" fill="none"/>
<line x1="848.5384615384615" y1="1643.8" x2="885.9615384615385" y2="1643.8" stroke-width="4.4"/>
<text transform="translate(856.75 1607.07) rotate(90) scale(0.9674 1)" font-size="30.52" fill="#333" stroke="none">5</text>
<rect x="797" y="1662" width="35.5" height="58.5" stroke-width="2.5" fill="none"/>
<line x1="796.0384615384615" y1="1662.7" x2="833.4615384615385" y2="1662.7" stroke-width="4.4"/>
<line x1="796.0384615384615" y1="1719.8" x2="833.4615384615385" y2="1719.8" stroke-width="4.4"/>
<text transform="translate(804.25 1685.25) rotate(90) scale(0.6459 1)" font-size="30.52" fill="#333" stroke="none">1</text>
<rect x="849.5" y="1662" width="35.5" height="58.5" stroke-width="2.5" fill="none"/>
<line x1="848.5384615384615" y1="1662.7" x2="885.9615384615385" y2="1662.7" stroke-width="4.4"/>
<line x1="848.5384615384615" y1="1719.8" x2="885.9615384615385" y2="1719.8" stroke-width="4.4"/>
<rect x="898.5" y="1662" width="35.5" height="58.5" stroke-width="2.5" fill="none"/>
<line x1="897.5384615384615" y1="1662.7" x2="934.9615384615385" y2="1662.7" stroke-width="4.4"/>
<line x1="897.5384615384615" y1="1719.8" x2="934.9615384615385" y2="1719.8" stroke-width="4.4"/>
<text transform="translate(905.75 1682.70) rotate(90) scale(1.0068 1)" font-size="30.52" fill="#333" stroke="none">2</text>
<text transform="translate(783.00 1483.29) rotate(90) scale(0.8638 1)" font-size="31.25" fill="#333" stroke="none">R4</text>
<rect x="770" y="1775.5" width="190" height="290.0" rx="12" stroke-width="2.2" fill="none"/>
<line x1="782" y1="1775.5" x2="948" y2="1775.5" stroke-width="2.8"/>
<rect x="849.5" y="1814" width="35.5" height="57.5" stroke-width="2.5" fill="none"/>
<text transform="translate(856.75 1834.63) rotate(90) scale(0.9674 1)" font-size="30.52" fill="#333" stroke="none">3</text>
<rect x="849.5" y="1889" width="35.5" height="58.5" stroke-width="2.5" fill="none"/>
<line x1="848.5384615384615" y1="1946.8" x2="885.9615384615385" y2="1946.8" stroke-width="4.4"/>
<text transform="translate(856.75 1910.07) rotate(90) scale(0.9674 1)" font-size="30.52" fill="#333" stroke="none">5</text>
<rect x="797" y="1965" width="35.5" height="58.5" stroke-width="2.5" fill="none"/>
<line x1="796.0384615384615" y1="1965.7" x2="833.4615384615385" y2="1965.7" stroke-width="4.4"/>
<line x1="796.0384615384615" y1="2022.8" x2="833.4615384615385" y2="2022.8" stroke-width="4.4"/>
<text transform="translate(804.25 1988.25) rotate(90) scale(0.6459 1)" font-size="30.52" fill="#333" stroke="none">1</text>
<rect x="849.5" y="1965" width="35.5" height="58.5" stroke-width="2.5" fill="none"/>
<line x1="848.5384615384615" y1="1965.7" x2="885.9615384615385" y2="1965.7" stroke-width="4.4"/>
<line x1="848.5384615384615" y1="2022.8" x2="885.9615384615385" y2="2022.8" stroke-width="4.4"/>
<rect x="898.5" y="1965" width="35.5" height="58.5" stroke-width="2.5" fill="none"/>
<line x1="897.5384615384615" y1="1965.7" x2="934.9615384615385" y2="1965.7" stroke-width="4.4"/>
<line x1="897.5384615384615" y1="2022.8" x2="934.9615384615385" y2="2022.8" stroke-width="4.4"/>
<text transform="translate(905.75 1985.70) rotate(90) scale(1.0068 1)" font-size="30.52" fill="#333" stroke="none">2</text>
<text transform="translate(783.00 1790.26) rotate(90) scale(0.8733 1)" font-size="31.25" fill="#333" stroke="none">R5</text>
<rect x="770" y="2075.5" width="190" height="295.0" rx="12" stroke-width="2.2" fill="none"/>
<line x1="782" y1="2075.5" x2="948" y2="2075.5" stroke-width="2.8"/>
<rect x="849.5" y="2114" width="35.5" height="57.5" stroke-width="2.5" fill="none"/>
<text transform="translate(856.75 2134.63) rotate(90) scale(0.9674 1)" font-size="30.52" fill="#333" stroke="none">3</text>
<rect x="849.5" y="2189" width="35.5" height="58.5" stroke-width="2.5" fill="none"/>
<line x1="848.5384615384615" y1="2246.8" x2="885.9615384615385" y2="2246.8" stroke-width="4.4"/>
<text transform="translate(856.75 2210.07) rotate(90) scale(0.9674 1)" font-size="30.52" fill="#333" stroke="none">5</text>
<rect x="797" y="2265" width="35.5" height="58.5" stroke-width="2.5" fill="none"/>
<line x1="796.0384615384615" y1="2265.7" x2="833.4615384615385" y2="2265.7" stroke-width="4.4"/>
<line x1="796.0384615384615" y1="2322.8" x2="833.4615384615385" y2="2322.8" stroke-width="4.4"/>
<text transform="translate(804.25 2288.25) rotate(90) scale(0.6459 1)" font-size="30.52" fill="#333" stroke="none">1</text>
<rect x="849.5" y="2265" width="35.5" height="58.5" stroke-width="2.5" fill="none"/>
<line x1="848.5384615384615" y1="2265.7" x2="885.9615384615385" y2="2265.7" stroke-width="4.4"/>
<line x1="848.5384615384615" y1="2322.8" x2="885.9615384615385" y2="2322.8" stroke-width="4.4"/>
<rect x="898.5" y="2265" width="35.5" height="58.5" stroke-width="2.5" fill="none"/>
<line x1="897.5384615384615" y1="2265.7" x2="934.9615384615385" y2="2265.7" stroke-width="4.4"/>
<line x1="897.5384615384615" y1="2322.8" x2="934.9615384615385" y2="2322.8" stroke-width="4.4"/>
<text transform="translate(905.75 2285.70) rotate(90) scale(1.0068 1)" font-size="30.52" fill="#333" stroke="none">2</text>
<text transform="translate(783.00 2090.26) rotate(90) scale(0.8747 1)" font-size="31.25" fill="#333" stroke="none">R6</text>
<rect x="1078.75" y="1468.7" width="190.5" height="297.8" rx="12" stroke-width="2.5" fill="none"/>
<rect x="1103.75" y="1511" width="36.0" height="58" stroke-width="2.5" fill="none"/>
<text transform="translate(1111.25 1531.45) rotate(90) scale(1.0068 1)" font-size="30.52" fill="#333" stroke="none">2</text>
<rect x="1155.75" y="1511" width="36.0" height="58" stroke-width="2.5" fill="none"/>
<rect x="1204.75" y="1511" width="36.5" height="58" stroke-width="2.5" fill="none"/>
<text transform="translate(1212.50 1534.00) rotate(90) scale(0.6459 1)" font-size="30.52" fill="#333" stroke="none">1</text>
<rect x="1155.75" y="1586" width="36.0" height="60" stroke-width="2.5" fill="none"/>
<line x1="1154.7884615384614" y1="1645.3" x2="1192.7115384615386" y2="1645.3" stroke-width="4.4"/>
<text transform="translate(1163.25 1607.82) rotate(90) scale(0.9674 1)" font-size="30.52" fill="#333" stroke="none">5</text>
<rect x="1155.75" y="1661" width="36.0" height="60" stroke-width="2.5" fill="none"/>
<line x1="1154.7884615384614" y1="1661.7" x2="1192.7115384615386" y2="1661.7" stroke-width="4.4"/>
<line x1="1154.7884615384614" y1="1720.3" x2="1192.7115384615386" y2="1720.3" stroke-width="4.4"/>
<text transform="translate(1163.25 1682.88) rotate(90) scale(0.9674 1)" font-size="30.52" fill="#333" stroke="none">3</text>
<text transform="translate(1094.25 1701.33) rotate(90) scale(0.8470 1)" font-size="31.25" fill="#333" stroke="none">R3</text>
<rect x="1301.25" y="1468.7" width="190.5" height="297.8" rx="12" stroke-width="2.5" fill="none"/>
<rect x="1326.25" y="1511" width="36.0" height="58" stroke-width="2.5" fill="none"/>
<text transform="translate(1333.75 1531.45) rotate(90) scale(1.0068 1)" font-size="30.52" fill="#333" stroke="none">2</text>
<rect x="1378.25" y="1511" width="36.0" height="58" stroke-width="2.5" fill="none"/>
<rect x="1427.25" y="1511" width="36.5" height="58" stroke-width="2.5" fill="none"/>
<text transform="translate(1435.00 1534.00) rotate(90) scale(0.6459 1)" font-size="30.52" fill="#333" stroke="none">1</text>
<rect x="1378.25" y="1586" width="36.0" height="60" stroke-width="2.5" fill="none"/>
<line x1="1377.2884615384614" y1="1645.3" x2="1415.2115384615386" y2="1645.3" stroke-width="4.4"/>
<text transform="translate(1385.75 1607.82) rotate(90) scale(0.9674 1)" font-size="30.52" fill="#333" stroke="none">5</text>
<rect x="1378.25" y="1661" width="36.0" height="60" stroke-width="2.5" fill="none"/>
<line x1="1377.2884615384614" y1="1661.7" x2="1415.2115384615386" y2="1661.7" stroke-width="4.4"/>
<line x1="1377.2884615384614" y1="1720.3" x2="1415.2115384615386" y2="1720.3" stroke-width="4.4"/>
<text transform="translate(1385.75 1682.88) rotate(90) scale(0.9674 1)" font-size="30.52" fill="#333" stroke="none">3</text>
<text transform="translate(1316.75 1701.32) rotate(90) scale(0.8517 1)" font-size="31.25" fill="#333" stroke="none">R2</text>
<path d="M1277.5 1504 V1773.75 H1080 Q1071.5 1773.75 1071.5 1765 V1669" stroke-width="2.6" fill="none"/>
<path d="M1293.75 1504 V1773.75 H1490 Q1499 1773.75 1499 1765 V1669" stroke-width="2.6" fill="none"/>
<rect x="1277.5" y="1503.75" width="16.25" height="14.25" stroke-width="2.6" fill="none"/>
<line x1="1277.5" y1="1517" x2="1293.75" y2="1517" stroke-width="3.9"/>
<path d="M1055 1669 V1768 Q1055 1792.5 1080 1792.5 H1175 Q1180 1792.5 1180 1798 V1841" stroke-width="2.4" fill="none"/>
<line x1="1080" y1="1792.5" x2="1176" y2="1792.5" stroke-width="4.7"/>
<path d="M1200 1841 V1798 Q1200 1792.5 1205 1792.5 H1277.5" stroke-width="2.4" fill="none"/>
<line x1="1205" y1="1792.5" x2="1277.5" y2="1792.5" stroke-width="4.7"/>
<path d="M1293.75 1792.5 H1367 Q1372.5 1792.5 1372.5 1798 V1841" stroke-width="2.4" fill="none"/>
<line x1="1293.75" y1="1792.5" x2="1368" y2="1792.5" stroke-width="4.7"/>
<path d="M1390 1841 V1798 Q1390 1792.5 1395 1792.5 H1491 Q1515.5 1792.5 1515.5 1768 V1669" stroke-width="2.4" fill="none"/>
<line x1="1395" y1="1792.5" x2="1491" y2="1792.5" stroke-width="4.7"/>
<rect x="1055" y="1669" width="16.5" height="11" stroke-width="2.6" fill="none"/>
<line x1="1055" y1="1669.5" x2="1071.5" y2="1669.5" stroke-width="3.9"/>
<rect x="1499" y="1669" width="16.5" height="11" stroke-width="2.6" fill="none"/>
<line x1="1499" y1="1669.5" x2="1515.5" y2="1669.5" stroke-width="3.9"/>
<line x1="1277.5" y1="1792.5" x2="1277.5" y2="1841" stroke-width="2.6"/>
<line x1="1293.75" y1="1792.5" x2="1293.75" y2="1841" stroke-width="2.6"/>
<rect x="1103.3" y="1841.25" width="173.9" height="155.45" rx="5" stroke-width="2.4" fill="none"/>
<text transform="translate(1178.50 1885.79) rotate(90) scale(0.8636 1)" font-size="31.25" fill="#333" stroke="none">F34</text>
<rect x="1293.7" y="1841.25" width="172.9" height="155.45" rx="5" stroke-width="2.4" fill="none"/>
<text transform="translate(1366.50 1885.76) rotate(90) scale(0.8742 1)" font-size="31.25" fill="#333" stroke="none">F31</text>
<rect x="1103.3" y="2007" width="173.9" height="155.6" rx="5" stroke-width="2.4" fill="none"/>
<line x1="1107.3" y1="2007" x2="1273.2" y2="2007" stroke-width="4.16"/>
<line x1="1107.3" y1="2162.6" x2="1273.2" y2="2162.6" stroke-width="4.16"/>
<text transform="translate(1178.50 2055.24) rotate(90) scale(0.8805 1)" font-size="31.25" fill="#333" stroke="none">F35</text>
<rect x="1293.7" y="2007" width="172.9" height="155.6" rx="5" stroke-width="2.4" fill="none"/>
<line x1="1297.7" y1="2007" x2="1462.6" y2="2007" stroke-width="4.16"/>
<line x1="1297.7" y1="2162.6" x2="1462.6" y2="2162.6" stroke-width="4.16"/>
<text transform="translate(1366.50 2055.23) rotate(90) scale(0.8851 1)" font-size="31.25" fill="#333" stroke="none">F32</text>
<rect x="1103.3" y="2173.5" width="173.9" height="155.5" rx="5" stroke-width="2.4" fill="none"/>
<text transform="translate(1178.50 2222.77) rotate(90) scale(0.8715 1)" font-size="31.25" fill="#333" stroke="none">F36</text>
<rect x="1293.7" y="2173.5" width="172.9" height="155.5" rx="5" stroke-width="2.4" fill="none"/>
<text transform="translate(1366.50 2222.77) rotate(90) scale(0.8715 1)" font-size="31.25" fill="#333" stroke="none">F33</text>
<path d="M1103.3 1944.5 H1091.3 V1997.5 Q1092 2005 1103.3 2010.5" stroke-width="2.4" fill="none"/>
<line x1="1091.3" y1="1945" x2="1103.3" y2="1945" stroke-width="3.9"/>
<line x1="1091.3" y1="1953" x2="1103.3" y2="1953" stroke-width="2.6"/>
<path d="M1103.3 2112 H1091.3 V2162.6 Q1092 2171 1103.3 2177.7" stroke-width="2.4" fill="none"/>
<line x1="1091.3" y1="2121" x2="1103.3" y2="2121" stroke-width="2.6"/>
<path d="M1103.3 2277 H1091.3 V2318 Q1091.3 2341.4 1113 2341.4 H1286" stroke-width="2.4" fill="none"/>
<line x1="1091.3" y1="2286" x2="1103.3" y2="2286" stroke-width="2.6"/>
<path d="M1466.7 1944.5 H1478.7 V1997.5 Q1478.0 2005 1466.7 2010.5" stroke-width="2.4" fill="none"/>
<line x1="1478.7" y1="1945" x2="1466.7" y2="1945" stroke-width="3.9"/>
<line x1="1478.7" y1="1953" x2="1466.7" y2="1953" stroke-width="2.6"/>
<path d="M1466.7 2112 H1478.7 V2162.6 Q1478.0 2171 1466.7 2177.7" stroke-width="2.4" fill="none"/>
<line x1="1478.7" y1="2121" x2="1466.7" y2="2121" stroke-width="2.6"/>
<path d="M1466.7 2277 H1478.7 V2318 Q1478.7 2341.4 1457.0 2341.4 H1284.0" stroke-width="2.4" fill="none"/>
<line x1="1478.7" y1="2286" x2="1466.7" y2="2286" stroke-width="2.6"/>
<path d="M370.4 565.2 L341.5 565.2 Q311 566 310.4 600 L310.4 818 Q311 849.5 336 850.4 L366.8 850.4" stroke-width="3.0" fill="none"/>
<path d="M370.4 577.6 L347.5 577.6 Q323.5 578.5 323 601 L323 815 Q323.5 836.5 345 837.5 L370.4 837.5" stroke-width="2.0" fill="none"/>
<path d="M370.4 590.5 L346.5 590.5 Q335.8 591.3 335.5 602.5 L335.5 814 Q336 824.5 346.5 825.2 L370.4 825.2" stroke-width="1.7" fill="none"/>
<line x1="310.4" y1="605" x2="323" y2="605" stroke-width="1.6"/>
<line x1="310.4" y1="811.8" x2="323" y2="811.8" stroke-width="3.6"/>
<line x1="348" y1="565.2" x2="348" y2="577.6" stroke-width="1.6"/>
<line x1="348" y1="837.5" x2="348" y2="850.4" stroke-width="1.6"/>
<line x1="364.7" y1="837.5" x2="364.7" y2="850.4" stroke-width="3.0"/>
<rect x="393.9" y="522" width="21.1" height="4.2" fill="#000" stroke="none"/>
<rect x="414.9" y="522" width="44.5" height="9.6" fill="#000" stroke="none"/>
<path d="M395 523.3 Q372 526 371.3 543" stroke-width="2.6" fill="none"/>
<path d="M414.2 537.6 L389 537.6 Q382.8 540 382.3 548" stroke-width="2.2" fill="none"/>
<line x1="382.3" y1="547" x2="382.3" y2="586" stroke-width="3.0"/>
<line x1="370.5" y1="549.9" x2="382.3" y2="549.9" stroke-width="2.0"/>
<line x1="394.9" y1="523" x2="394.9" y2="537.6" stroke-width="3.0"/>
<line x1="406.9" y1="527" x2="406.9" y2="586" stroke-width="1.5"/>
<line x1="414.9" y1="527" x2="414.9" y2="587" stroke-width="2.0"/>
<line x1="419.2" y1="531.6" x2="419.2" y2="550.6" stroke-width="1.5"/>
<line x1="414.9" y1="550.6" x2="459.4" y2="550.6" stroke-width="2.2"/>
<line x1="348" y1="577.8" x2="414.5" y2="577.8" stroke-width="2.0"/>
<rect x="370" y="585.1" width="43.5" height="4.0" fill="#000" stroke="none"/>
<path d="M413.5 587.1 Q415.2 587.1 415.2 583" stroke-width="2.0" fill="none"/>
<rect x="346.5" y="588.6" width="49.9" height="5.2" fill="#000" stroke="none"/>
<line x1="394.9" y1="589" x2="394.9" y2="830.3" stroke-width="3.3"/>
<line x1="370.5" y1="643.75" x2="395" y2="643.75" stroke-width="2.0"/>
<line x1="370.5" y1="766.25" x2="395" y2="766.25" stroke-width="2.0"/>
<line x1="387.5" y1="643.75" x2="387.5" y2="766.25" stroke-width="3.0"/>
<path d="M395 667.5 L415 667.5 L415 748.75 L395 748.75" stroke-width="2.0" fill="none"/>
<line x1="395" y1="668.3" x2="415" y2="668.3" stroke-width="3.6"/>
<line x1="370.4" y1="830.3" x2="415.1" y2="830.3" stroke-width="2.0"/>
<line x1="370.4" y1="835" x2="414.6" y2="835" stroke-width="2.0"/>
<path d="M382.2 831 L382.2 864 Q383 877.5 392 878.2" stroke-width="3.0" fill="none"/>
<line x1="390.4" y1="879.6" x2="415.6" y2="879.6" stroke-width="4.0"/>
<line x1="406.9" y1="835" x2="406.9" y2="878" stroke-width="1.5"/>
<line x1="414.6" y1="830.3" x2="414.6" y2="881.5" stroke-width="2.0"/>
<line x1="394.6" y1="881" x2="394.6" y2="893" stroke-width="3.0"/>
<path d="M370.4 857.6 Q372 888 388 893 L458.3 893" stroke-width="2.5" fill="none"/>
<line x1="415.1" y1="867.3" x2="459.3" y2="867.3" stroke-width="4.0"/>
<line x1="419.2" y1="869" x2="419.2" y2="884" stroke-width="1.5"/>
<line x1="419.2" y1="884.3" x2="459.3" y2="884.3" stroke-width="4.5"/>
<path d="M459 608 L417 608 Q411 608.5 411 614 L411 622 Q411 627.5 417 628 L459 628" stroke-width="2.0" fill="none"/>
<line x1="416" y1="626.8" x2="459" y2="626.8" stroke-width="4.4"/>
<path d="M459 788 L417 788 Q411 788.5 411 794 L411 804 Q411 809.5 417 810 L459 810" stroke-width="2.0" fill="none"/>
<line x1="416" y1="808.8" x2="459" y2="808.8" stroke-width="4.4"/>
<path d="M370.4 1991.2 L341.5 1991.2 Q311 1992 310.4 2026 L310.4 2244 Q311 2275.5 336 2276.4 L366.8 2276.4" stroke-width="3.0" fill="none"/>
<path d="M370.4 2003.6 L347.5 2003.6 Q323.5 2004.5 323 2027 L323 2241 Q323.5 2262.5 345 2263.5 L370.4 2263.5" stroke-width="2.0" fill="none"/>
<path d="M370.4 2016.5 L346.5 2016.5 Q335.8 2017.3 335.5 2028.5 L335.5 2240 Q336 2250.5 346.5 2251.2 L370.4 2251.2" stroke-width="1.7" fill="none"/>
<line x1="310.4" y1="2031" x2="323" y2="2031" stroke-width="1.6"/>
<line x1="310.4" y1="2237.8" x2="323" y2="2237.8" stroke-width="3.6"/>
<line x1="348" y1="1991.2" x2="348" y2="2003.6" stroke-width="1.6"/>
<line x1="348" y1="2263.5" x2="348" y2="2276.4" stroke-width="1.6"/>
<line x1="364.7" y1="2263.5" x2="364.7" y2="2276.4" stroke-width="3.0"/>
<rect x="393.9" y="1948" width="21.1" height="4.2" fill="#000" stroke="none"/>
<rect x="414.9" y="1948" width="44.5" height="9.6" fill="#000" stroke="none"/>
<path d="M395 1949.3 Q372 1952 371.3 1969" stroke-width="2.6" fill="none"/>
<path d="M414.2 1963.6 L389 1963.6 Q382.8 1966 382.3 1974" stroke-width="2.2" fill="none"/>
<line x1="382.3" y1="1973" x2="382.3" y2="2012" stroke-width="3.0"/>
<line x1="370.5" y1="1975.9" x2="382.3" y2="1975.9" stroke-width="2.0"/>
<line x1="394.9" y1="1949" x2="394.9" y2="1963.6" stroke-width="3.0"/>
<line x1="406.9" y1="1953" x2="406.9" y2="2012" stroke-width="1.5"/>
<line x1="414.9" y1="1953" x2="414.9" y2="2013" stroke-width="2.0"/>
<line x1="419.2" y1="1957.6" x2="419.2" y2="1976.6" stroke-width="1.5"/>
<line x1="414.9" y1="1976.6" x2="459.4" y2="1976.6" stroke-width="2.2"/>
<line x1="348" y1="2003.8" x2="414.5" y2="2003.8" stroke-width="2.0"/>
<rect x="370" y="2011.1" width="43.5" height="4.0" fill="#000" stroke="none"/>
<path d="M413.5 2013.1 Q415.2 2013.1 415.2 2009" stroke-width="2.0" fill="none"/>
<rect x="346.5" y="2014.6" width="49.9" height="5.2" fill="#000" stroke="none"/>
<line x1="394.9" y1="2015" x2="394.9" y2="2256.3" stroke-width="3.3"/>
<line x1="370.5" y1="2069.75" x2="395" y2="2069.75" stroke-width="2.0"/>
<line x1="370.5" y1="2192.25" x2="395" y2="2192.25" stroke-width="2.0"/>
<line x1="387.5" y1="2069.75" x2="387.5" y2="2192.25" stroke-width="3.0"/>
<path d="M395 2093.5 L415 2093.5 L415 2174.75 L395 2174.75" stroke-width="2.0" fill="none"/>
<line x1="395" y1="2094.3" x2="415" y2="2094.3" stroke-width="3.6"/>
<line x1="370.4" y1="2256.3" x2="415.1" y2="2256.3" stroke-width="2.0"/>
<line x1="370.4" y1="2261" x2="414.6" y2="2261" stroke-width="2.0"/>
<path d="M382.2 2257 L382.2 2290 Q383 2303.5 392 2304.2" stroke-width="3.0" fill="none"/>
<line x1="390.4" y1="2305.6" x2="415.6" y2="2305.6" stroke-width="4.0"/>
<line x1="406.9" y1="2261" x2="406.9" y2="2304" stroke-width="1.5"/>
<line x1="414.6" y1="2256.3" x2="414.6" y2="2307.5" stroke-width="2.0"/>
<line x1="394.6" y1="2307" x2="394.6" y2="2319" stroke-width="3.0"/>
<path d="M370.4 2283.6 Q372 2314 388 2319 L458.3 2319" stroke-width="2.5" fill="none"/>
<line x1="415.1" y1="2293.3" x2="459.3" y2="2293.3" stroke-width="4.0"/>
<line x1="419.2" y1="2295" x2="419.2" y2="2310" stroke-width="1.5"/>
<line x1="419.2" y1="2310.3" x2="459.3" y2="2310.3" stroke-width="4.5"/>
<path d="M459 2034 L417 2034 Q411 2034.5 411 2040 L411 2048 Q411 2053.5 417 2054 L459 2054" stroke-width="2.0" fill="none"/>
<line x1="416" y1="2052.8" x2="459" y2="2052.8" stroke-width="4.4"/>
<path d="M459 2214 L417 2214 Q411 2214.5 411 2220 L411 2230 Q411 2235.5 417 2236 L459 2236" stroke-width="2.0" fill="none"/>
<line x1="416" y1="2234.8" x2="459" y2="2234.8" stroke-width="4.4"/>
<path d="M1671.1 565.2 L1700.0 565.2 Q1730.5 566 1731.1 600 L1731.1 818 Q1730.5 849.5 1705.5 850.4 L1674.7 850.4" stroke-width="3.0" fill="none"/>
<path d="M1671.1 577.6 L1694.0 577.6 Q1718.0 578.5 1718.5 601 L1718.5 815 Q1718.0 836.5 1696.5 837.5 L1671.1 837.5" stroke-width="2.0" fill="none"/>
<path d="M1671.1 590.5 L1695.0 590.5 Q1705.7 591.3 1706.0 602.5 L1706.0 814 Q1705.5 824.5 1695.0 825.2 L1671.1 825.2" stroke-width="1.7" fill="none"/>
<line x1="1731.1" y1="605" x2="1718.5" y2="605" stroke-width="1.6"/>
<line x1="1731.1" y1="811.8" x2="1718.5" y2="811.8" stroke-width="3.6"/>
<line x1="1693.5" y1="565.2" x2="1693.5" y2="577.6" stroke-width="1.6"/>
<line x1="1693.5" y1="837.5" x2="1693.5" y2="850.4" stroke-width="1.6"/>
<line x1="1676.8" y1="837.5" x2="1676.8" y2="850.4" stroke-width="3.0"/>
<rect x="1582.1" y="522" width="65.5" height="4.2" fill="#000" stroke="none"/>
<line x1="1626.6" y1="531" x2="1582.1" y2="531" stroke-width="1.6"/>
<path d="M1646.5 523.3 Q1669.5 526 1670.2 543" stroke-width="2.6" fill="none"/>
<path d="M1627.3 537.6 L1652.5 537.6 Q1658.7 540 1659.2 548" stroke-width="2.2" fill="none"/>
<line x1="1659.2" y1="547" x2="1659.2" y2="586" stroke-width="3.0"/>
<line x1="1671.0" y1="549.9" x2="1659.2" y2="549.9" stroke-width="2.0"/>
<line x1="1646.6" y1="523" x2="1646.6" y2="537.6" stroke-width="3.0"/>
<line x1="1634.6" y1="527" x2="1634.6" y2="586" stroke-width="1.5"/>
<line x1="1626.6" y1="527" x2="1626.6" y2="587" stroke-width="2.0"/>
<line x1="1622.3" y1="531.6" x2="1622.3" y2="550.6" stroke-width="1.5"/>
<line x1="1626.6" y1="550.6" x2="1582.1" y2="550.6" stroke-width="2.2"/>
<line x1="1693.5" y1="577.8" x2="1627.0" y2="577.8" stroke-width="2.0"/>
<rect x="1628.0" y="585.1" width="43.5" height="4.0" fill="#000" stroke="none"/>
<path d="M1628.0 587.1 Q1626.3 587.1 1626.3 583" stroke-width="2.0" fill="none"/>
<rect x="1645.1" y="588.6" width="49.9" height="5.2" fill="#000" stroke="none"/>
<line x1="1646.6" y1="589" x2="1646.6" y2="830.3" stroke-width="3.3"/>
<line x1="1671.0" y1="643.75" x2="1646.5" y2="643.75" stroke-width="2.0"/>
<line x1="1671.0" y1="766.25" x2="1646.5" y2="766.25" stroke-width="2.0"/>
<line x1="1654.0" y1="643.75" x2="1654.0" y2="766.25" stroke-width="3.0"/>
<path d="M1646.5 667.5 L1626.5 667.5 L1626.5 748.75 L1646.5 748.75" stroke-width="2.0" fill="none"/>
<line x1="1646.5" y1="668.3" x2="1626.5" y2="668.3" stroke-width="3.6"/>
<line x1="1671.1" y1="830.3" x2="1626.4" y2="830.3" stroke-width="2.0"/>
<line x1="1671.1" y1="835" x2="1626.9" y2="835" stroke-width="2.0"/>
<path d="M1659.3 831 L1659.3 864 Q1658.5 877.5 1649.5 878.2" stroke-width="3.0" fill="none"/>
<line x1="1651.1" y1="879.6" x2="1625.9" y2="879.6" stroke-width="4.0"/>
<line x1="1634.6" y1="835" x2="1634.6" y2="878" stroke-width="1.5"/>
<line x1="1626.9" y1="830.3" x2="1626.9" y2="881.5" stroke-width="2.0"/>
<line x1="1646.9" y1="881" x2="1646.9" y2="893" stroke-width="3.0"/>
<path d="M1671.1 857.6 Q1669.5 888 1653.5 893 L1583.2 893" stroke-width="2.5" fill="none"/>
<line x1="1626.4" y1="867.3" x2="1582.2" y2="867.3" stroke-width="4.0"/>
<line x1="1622.3" y1="869" x2="1622.3" y2="884" stroke-width="1.5"/>
<line x1="1622.3" y1="884.3" x2="1582.2" y2="884.3" stroke-width="4.5"/>
<path d="M1582.5 608 L1624.5 608 Q1630.5 608.5 1630.5 614 L1630.5 622 Q1630.5 627.5 1624.5 628 L1582.5 628" stroke-width="2.0" fill="none"/>
<line x1="1625.5" y1="626.8" x2="1582.5" y2="626.8" stroke-width="4.4"/>
<path d="M1582.5 788 L1624.5 788 Q1630.5 788.5 1630.5 794 L1630.5 804 Q1630.5 809.5 1624.5 810 L1582.5 810" stroke-width="2.0" fill="none"/>
<line x1="1625.5" y1="808.8" x2="1582.5" y2="808.8" stroke-width="4.4"/>
<path d="M1671.1 1991.2 L1700.0 1991.2 Q1730.5 1992 1731.1 2026 L1731.1 2244 Q1730.5 2275.5 1705.5 2276.4 L1674.7 2276.4" stroke-width="3.0" fill="none"/>
<path d="M1671.1 2003.6 L1694.0 2003.6 Q1718.0 2004.5 1718.5 2027 L1718.5 2241 Q1718.0 2262.5 1696.5 2263.5 L1671.1 2263.5" stroke-width="2.0" fill="none"/>
<path d="M1671.1 2016.5 L1695.0 2016.5 Q1705.7 2017.3 1706.0 2028.5 L1706.0 2240 Q1705.5 2250.5 1695.0 2251.2 L1671.1 2251.2" stroke-width="1.7" fill="none"/>
<line x1="1731.1" y1="2031" x2="1718.5" y2="2031" stroke-width="1.6"/>
<line x1="1731.1" y1="2237.8" x2="1718.5" y2="2237.8" stroke-width="3.6"/>
<line x1="1693.5" y1="1991.2" x2="1693.5" y2="2003.6" stroke-width="1.6"/>
<line x1="1693.5" y1="2263.5" x2="1693.5" y2="2276.4" stroke-width="1.6"/>
<line x1="1676.8" y1="2263.5" x2="1676.8" y2="2276.4" stroke-width="3.0"/>
<rect x="1582.1" y="1948" width="65.5" height="4.2" fill="#000" stroke="none"/>
<line x1="1626.6" y1="1957" x2="1582.1" y2="1957" stroke-width="1.6"/>
<path d="M1627.3 1963.6 L1652.5 1963.6 Q1658.7 1966 1659.2 1974" stroke-width="2.2" fill="none"/>
<line x1="1659.2" y1="1973" x2="1659.2" y2="2012" stroke-width="3.0"/>
<line x1="1671.0" y1="1975.9" x2="1659.2" y2="1975.9" stroke-width="2.0"/>
<line x1="1646.6" y1="1949" x2="1646.6" y2="1963.6" stroke-width="3.0"/>
<line x1="1634.6" y1="1953" x2="1634.6" y2="2012" stroke-width="1.5"/>
<line x1="1626.6" y1="1953" x2="1626.6" y2="2013" stroke-width="2.0"/>
<line x1="1622.3" y1="1957.6" x2="1622.3" y2="1976.6" stroke-width="1.5"/>
<line x1="1626.6" y1="1976.6" x2="1582.1" y2="1976.6" stroke-width="2.2"/>
<line x1="1693.5" y1="2003.8" x2="1627.0" y2="2003.8" stroke-width="2.0"/>
<rect x="1628.0" y="2011.1" width="43.5" height="4.0" fill="#000" stroke="none"/>
<path d="M1628.0 2013.1 Q1626.3 2013.1 1626.3 2009" stroke-width="2.0" fill="none"/>
<rect x="1645.1" y="2014.6" width="49.9" height="5.2" fill="#000" stroke="none"/>
<line x1="1646.6" y1="2015" x2="1646.6" y2="2256.3" stroke-width="3.3"/>
<line x1="1671.0" y1="2069.75" x2="1646.5" y2="2069.75" stroke-width="2.0"/>
<line x1="1671.0" y1="2192.25" x2="1646.5" y2="2192.25" stroke-width="2.0"/>
<line x1="1654.0" y1="2069.75" x2="1654.0" y2="2192.25" stroke-width="3.0"/>
<path d="M1646.5 2093.5 L1626.5 2093.5 L1626.5 2174.75 L1646.5 2174.75" stroke-width="2.0" fill="none"/>
<line x1="1646.5" y1="2094.3" x2="1626.5" y2="2094.3" stroke-width="3.6"/>
<line x1="1671.1" y1="2256.3" x2="1626.4" y2="2256.3" stroke-width="2.0"/>
<line x1="1671.1" y1="2261" x2="1626.9" y2="2261" stroke-width="2.0"/>
<path d="M1659.3 2257 L1659.3 2290 Q1658.5 2303.5 1649.5 2304.2" stroke-width="3.0" fill="none"/>
<line x1="1651.1" y1="2305.6" x2="1625.9" y2="2305.6" stroke-width="4.0"/>
<line x1="1634.6" y1="2261" x2="1634.6" y2="2304" stroke-width="1.5"/>
<line x1="1626.9" y1="2256.3" x2="1626.9" y2="2307.5" stroke-width="2.0"/>
<line x1="1646.9" y1="2307" x2="1646.9" y2="2319" stroke-width="3.0"/>
<path d="M1671.1 2283.6 Q1669.5 2314 1653.5 2319 L1583.2 2319" stroke-width="2.5" fill="none"/>
<line x1="1626.4" y1="2293.3" x2="1582.2" y2="2293.3" stroke-width="4.0"/>
<line x1="1622.3" y1="2295" x2="1622.3" y2="2310" stroke-width="1.5"/>
<line x1="1622.3" y1="2310.3" x2="1582.2" y2="2310.3" stroke-width="4.5"/>
<path d="M1582.5 2034 L1624.5 2034 Q1630.5 2034.5 1630.5 2040 L1630.5 2048 Q1630.5 2053.5 1624.5 2054 L1582.5 2054" stroke-width="2.0" fill="none"/>
<line x1="1625.5" y1="2052.8" x2="1582.5" y2="2052.8" stroke-width="4.4"/>
<path d="M1582.5 2214 L1624.5 2214 Q1630.5 2214.5 1630.5 2220 L1630.5 2230 Q1630.5 2235.5 1624.5 2236 L1582.5 2236" stroke-width="2.0" fill="none"/>
<line x1="1625.5" y1="2234.8" x2="1582.5" y2="2234.8" stroke-width="4.4"/>
<path d="M471.5 410.5 L388 449 Q371 458 370 477 V937 Q371 953 385 961 L435 990 V1226 Q436 1253 458.75 1261" stroke-width="1.4" fill="none"/>
<path d="M471.5 410.5 L388 449" stroke-width="2.6" fill="none"/>
<path d="M370 930 V937 Q371 953 385 961 L435 990 V1226 Q436 1253 458.75 1261" stroke-width="2.8" fill="none"/>
<path d="M458.75 1584.5 Q436 1592 435 1611 V1847.5 L383 1879 Q370.5 1887 370 1903 V2360 Q371 2378 386 2387 L458.75 2428.75 L472.5 2436" stroke-width="1.4" fill="none"/>
<path d="M458.75 1584.5 Q436 1592 435 1611 V1847.5 L383 1879 Q370.5 1887 370 1903 V1910" stroke-width="2.8" fill="none"/>
<path d="M386 2387 L458.75 2428.75 L472.5 2436" stroke-width="2.6" fill="none"/>
<path d="M471.5 410.5 Q459.5 416 458.75 432 V2415 Q459.5 2430 470 2436 H481 Q485 2436 485 2431" stroke-width="1.56" fill="none"/>
<line x1="471" y1="410.5" x2="486" y2="410.5" stroke-width="2.86"/>
<path d="M1573.75 410.5 L1648 449 Q1669 460 1670 481 V932 Q1669 948 1655 957.5 L1620 985 V1246 Q1619 1272 1583.75 1278.75" stroke-width="1.4" fill="none"/>
<path d="M1573.75 410.5 L1648 449 Q1669 460 1670 481 V932" stroke-width="2.4" fill="none"/>
<path d="M1670 925 V932 Q1669 948 1655 957.5 L1620 985 V1246 Q1619 1272 1583.75 1278.75" stroke-width="2.8" fill="none"/>
<path d="M1583.75 1563.75 Q1619 1568 1620 1598 V1856 L1652 1873.5 Q1669.5 1884 1670 1903 V2360 Q1669.5 2374 1663 2381 L1607 2426 L1603.5 2433.5 H1574 Q1560 2431 1558.5 2415" stroke-width="1.4" fill="none"/>
<path d="M1583.75 1563.75 Q1619 1568 1620 1598 V1856 L1652 1873.5 Q1669.5 1884 1670 1903 V1910" stroke-width="2.8" fill="none"/>
<path d="M1670 1900 V2360 Q1669.5 2374 1663 2381 L1607 2426 L1603.5 2433.5 H1575" stroke-width="2.6" fill="none"/>
<path d="M1573.75 410.5 Q1583 414 1583.75 430 V2300" stroke-width="1.56" fill="none"/>
<line x1="1557" y1="410.5" x2="1574" y2="410.5" stroke-width="2.86"/>
<path d="M485 410.5 V567.5 H495.5" stroke-width="2.86" fill="none"/>
<line x1="488.75" y1="415" x2="488.75" y2="467.5" stroke-width="1.3"/>
<path d="M495.5 742.5 H483.75 V1062.5 L495 1073.75" stroke-width="2.86" fill="none"/>
<path d="M483.75 1061 L496 1075" stroke-width="3.8" fill="none"/>
<path d="M495 1246 L485 1257.5 V1576 Q485 1579.5 489 1579.5 H495.5" stroke-width="2.86" fill="none"/>
<path d="M496 1245 L484.5 1259" stroke-width="3.8" fill="none"/>
<path d="M495.5 1755.5 H483.75 V2072.5 L495 2085" stroke-width="2.86" fill="none"/>
<path d="M483.75 2071 L496 2086" stroke-width="3.8" fill="none"/>
<path d="M495 2260 L485 2270 V2432" stroke-width="2.86" fill="none"/>
<path d="M496 2259 L484.5 2271.5" stroke-width="3.8" fill="none"/>
<line x1="496.2" y1="548" x2="496.2" y2="1270" stroke-width="2.7"/>
<line x1="501.3" y1="548" x2="501.3" y2="1270" stroke-width="2.4"/>
<line x1="496.2" y1="1350" x2="496.2" y2="1478" stroke-width="2.7"/>
<line x1="501.3" y1="1350" x2="501.3" y2="1478" stroke-width="2.4"/>
<line x1="496.2" y1="1558.75" x2="496.2" y2="2281" stroke-width="2.7"/>
<line x1="501.3" y1="1558.75" x2="501.3" y2="2281" stroke-width="2.4"/>
<rect x="497.5" y="580" width="10.5" height="152.5" stroke-width="1.8" fill="none"/>
<rect x="497.5" y="579.5" width="11.4" height="4.0" fill="#000" stroke="none"/>
<rect x="497.5" y="729.0" width="11.4" height="4.0" fill="#000" stroke="none"/>
<rect x="497.5" y="1591.25" width="10.5" height="152.5" stroke-width="1.8" fill="none"/>
<rect x="497.5" y="1590.75" width="11.4" height="4.0" fill="#000" stroke="none"/>
<rect x="497.5" y="1740.25" width="11.4" height="4.0" fill="#000" stroke="none"/>
<line x1="485" y1="467.5" x2="533.5" y2="467.5" stroke-width="2.34"/>
<path d="M533 493 H510 V520 H533" stroke-width="2.6" fill="none"/>
<line x1="510" y1="520" x2="533" y2="520" stroke-width="3.9"/>
<line x1="510.5" y1="493" x2="510.5" y2="520" stroke-width="3.38"/>
<line x1="495.5" y1="548" x2="533.5" y2="548" stroke-width="2.34"/>
<path d="M495.5 1270 H533.75" stroke-width="3.2" fill="none"/>
<path d="M533.5 1270 V1350" stroke-width="1.8" fill="none"/>
<path d="M533.75 1350.3 H495.5" stroke-width="3.4" fill="none"/>
<rect x="510.5" y="1296" width="22.1" height="27.3" stroke-width="3.2" fill="none"/>
<rect x="509" y="1294.8" width="24" height="4.7" fill="#000" stroke="none"/>
<line x1="495.5" y1="1478" x2="523" y2="1478" stroke-width="2.6"/>
<line x1="495.5" y1="1558.75" x2="523" y2="1558.75" stroke-width="2.6"/>
<rect x="505" y="1503" width="17.5" height="27.5" stroke-width="2.34" fill="none"/>
<rect x="524" y="1514" width="16" height="27" stroke-width="2.08" fill="none"/>
<line x1="524" y1="1515" x2="540" y2="1515" stroke-width="3.9"/>
<line x1="524" y1="1528" x2="540" y2="1528" stroke-width="3.9"/>
<line x1="495.5" y1="2281" x2="523.5" y2="2281" stroke-width="2.6"/>
<rect x="505" y="2306" width="16.5" height="27.5" stroke-width="2.34" fill="none"/>
<line x1="505" y1="2306.5" x2="521.5" y2="2306.5" stroke-width="3.9"/>
<rect x="524" y="2299" width="17" height="27" stroke-width="2.08" fill="none"/>
<line x1="524" y1="2300" x2="541" y2="2300" stroke-width="3.9"/>
<line x1="524" y1="2313" x2="541" y2="2313" stroke-width="3.9"/>
<line x1="485" y1="2361" x2="523.5" y2="2361" stroke-width="3.64"/>
<line x1="489.5" y1="2363" x2="489.5" y2="2425" stroke-width="1.3"/>
<line x1="476.3" y1="1087.5" x2="476.3" y2="1236.0" stroke-width="1.5"/>
<path d="M476.3 1088.5 L495.5 1105.5" stroke-width="3.8" fill="none"/>
<path d="M476.3 1235.0 L495.5 1213.5" stroke-width="3.8" fill="none"/>
<line x1="488.4" y1="1102.5" x2="488.4" y2="1216.5" stroke-width="2.7"/>
<rect x="471.3" y="1130.0" width="5.1" height="64.5" stroke-width="1.5" fill="none"/>
<line x1="476.3" y1="2101.25" x2="476.3" y2="2249.75" stroke-width="1.5"/>
<path d="M476.3 2102.25 L495.5 2119.25" stroke-width="3.8" fill="none"/>
<path d="M476.3 2248.75 L495.5 2227.25" stroke-width="3.8" fill="none"/>
<line x1="488.4" y1="2116.25" x2="488.4" y2="2230.25" stroke-width="2.7"/>
<rect x="471.3" y="2143.75" width="5.1" height="64.5" stroke-width="1.5" fill="none"/>
<path d="M458.75 1075 Q452.5 1076 452.2 1086 V1234 Q452.5 1243 458.75 1244" stroke-width="2.6" fill="none"/>
<path d="M458.75 1105.7 H452 Q446.7 1106 446.5 1113 V1212 Q446.7 1218.5 452 1218.7 H458.75" stroke-width="1.5" fill="none"/>
<path d="M459.4 1296.1 H371.1 Q366.1 1296.1 366.1 1306.3 Q366.1 1316.5 371.1 1316.5 H459.4" stroke-width="2.4" fill="none"/>
<rect x="370.1" y="1295.1" width="89.3" height="4.1" fill="#000" stroke="none"/>
<rect x="368.1" y="1303.2" width="91.3" height="6.1" fill="#000" stroke="none"/>
<rect x="370.1" y="1313.4" width="89.3" height="4.1" fill="#000" stroke="none"/>
<line x1="384.8" y1="1295.1" x2="384.8" y2="1317.5" stroke-width="2.0"/>
<path d="M459.4 1526.7 H371.1 Q366.1 1526.7 366.1 1536.5500000000002 Q366.1 1546.4 371.1 1546.4 H459.4" stroke-width="2.4" fill="none"/>
<rect x="370.1" y="1525.7" width="89.3" height="4.1" fill="#000" stroke="none"/>
<rect x="368.1" y="1535.2" width="91.3" height="4.8" fill="#000" stroke="none"/>
<rect x="370.1" y="1543.3000000000002" width="89.3" height="4.1" fill="#000" stroke="none"/>
<line x1="384.8" y1="1525.7" x2="384.8" y2="1547.4" stroke-width="2.0"/>
<path d="M459 1369 H386.6 V1473.5 H459" stroke-width="3.0" fill="none"/>
<line x1="444" y1="1369" x2="444" y2="1473.5" stroke-width="3.2"/>
<rect x="385.2" y="1367.7" width="74.2" height="7.3" fill="#000" stroke="none"/>
<line x1="1558" y1="410.5" x2="1558" y2="2418" stroke-width="1.7"/>
<line x1="1551" y1="414" x2="1551" y2="468" stroke-width="3.0"/>
<line x1="1551" y1="548" x2="1551" y2="1271" stroke-width="2.9"/>
<line x1="1551" y1="1351" x2="1551" y2="1478.75" stroke-width="2.9"/>
<line x1="1551" y1="1558.75" x2="1551" y2="2282.5" stroke-width="2.9"/>
<line x1="1551" y1="2362.5" x2="1551" y2="2425" stroke-width="2.9"/>
<line x1="1529" y1="467.5" x2="1558" y2="467.5" stroke-width="2.34"/>
<line x1="1529" y1="548" x2="1551" y2="548" stroke-width="2.34"/>
<rect x="1529" y="493" width="5.5" height="27" stroke-width="2.08" fill="none"/>
<path d="M1529 1271.25 H1558" stroke-width="2.34" fill="none"/>
<path d="M1529 1351.25 H1558" stroke-width="2.34" fill="none"/>
<rect x="1529" y="1297.5" width="5" height="27.5" stroke-width="2.34" fill="none"/>
<line x1="1537.5" y1="1087.5" x2="1537.5" y2="1236.25" stroke-width="1.5"/>
<path d="M1537.5 1088.5 L1558 1110" stroke-width="3.6" fill="none"/>
<path d="M1537.5 1235.25 L1558 1212.5" stroke-width="3.6" fill="none"/>
<rect x="1532.5" y="1130" width="5.0" height="63.75" stroke-width="1.5" fill="none"/>
<line x1="1537.5" y1="2101.25" x2="1537.5" y2="2250.0" stroke-width="1.5"/>
<path d="M1537.5 2102.25 L1558 2123.75" stroke-width="3.6" fill="none"/>
<path d="M1537.5 2249.0 L1558 2226.25" stroke-width="3.6" fill="none"/>
<rect x="1532.5" y="2143.75" width="5.0" height="63.75" stroke-width="1.5" fill="none"/>
<rect x="1558.8" y="580" width="4.8" height="152.5" stroke-width="1.6" fill="#fff"/>
<line x1="1563.6" y1="580" x2="1563.6" y2="732.5" stroke-width="2.9"/>
<rect x="1558.8" y="580" width="6.2" height="4" fill="#000" stroke="none"/>
<rect x="1558.8" y="728.5" width="6.2" height="4.0" fill="#000" stroke="none"/>
<rect x="1506.25" y="1478.75" width="51.75" height="80.0" stroke-width="2.6" fill="#fff"/>
<line x1="1517" y1="1478.75" x2="1517" y2="1558.75" stroke-width="2.08"/>
<rect x="1517" y="1503" width="16.75" height="28.25" stroke-width="2.6" fill="none"/>
<line x1="1506.25" y1="1558.25" x2="1558" y2="1558.25" stroke-width="3.9"/>
<rect x="1506.25" y="2282.5" width="51.75" height="80.0" stroke-width="2.6" fill="#fff"/>
<line x1="1517" y1="2282.5" x2="1517" y2="2362.5" stroke-width="2.08"/>
<rect x="1517" y="2306.75" width="16.75" height="28.25" stroke-width="2.6" fill="none"/>
<line x1="1506.25" y1="2362.0" x2="1558" y2="2362.0" stroke-width="3.9"/>
<path d="M1583.75 1318.75 H1672 Q1675 1319 1675 1326 Q1675 1333.5 1672 1333.75 H1583.75" stroke-width="2.34" fill="none"/>
<line x1="1583.75" y1="1323.5" x2="1675" y2="1323.5" stroke-width="1.82"/>
<line x1="1583.75" y1="1329" x2="1675" y2="1329" stroke-width="1.82"/>
<line x1="1657.5" y1="1318.75" x2="1657.5" y2="1333.75" stroke-width="2.08"/>
<path d="M1583.75 1508 H1670 Q1675 1508 1675 1517.5 Q1675 1527 1670 1527 H1583.75 Z" stroke-width="1.3" fill="#000"/>
<rect x="1583.75" y="1388.25" width="71.25" height="64.25" stroke-width="2.6" fill="none"/>
<line x1="1595" y1="1388.25" x2="1595" y2="1452.5" stroke-width="2.08"/>
<line x1="1583.75" y1="1451.5" x2="1655" y2="1451.5" stroke-width="4.16"/>
<line x1="1654" y1="1388.25" x2="1654" y2="1452.5" stroke-width="3.9"/>
<path d="M486 410.5 H800 V414.8 H943 V410.5 H1021" stroke-width="2.6" fill="none"/>
<path d="M486 415.6 H800" stroke-width="2.21" fill="none"/>
<path d="M800 414.8 V423.2 H943 V414.8" stroke-width="2.34" fill="none"/>
<path d="M943 417 H1018" stroke-width="1.82" fill="none"/>
<path d="M1035 410.5 H1330 V414.8 H1475 V410.5 H1558" stroke-width="2.6" fill="none"/>
<path d="M1037 415 H1330" stroke-width="1.82" fill="none"/>
<path d="M1330 414.8 V423.2 H1475 V414.8" stroke-width="2.34" fill="none"/>
<path d="M1475 415 H1551" stroke-width="1.82" fill="none"/>
<path d="M552.5 410 V392 H722.5 V410" stroke-width="2.6" fill="none"/>
<path d="M587.5 409.5 L582.5 403 H692.5 L688.5 409.5" stroke-width="2.34" fill="none"/>
<path d="M1082.5 410 V392 H1252.5 V410" stroke-width="2.6" fill="none"/>
<path d="M1117.5 409.5 L1112.5 403 H1222.5 L1218.5 409.5" stroke-width="2.34" fill="none"/>
<path d="M781 409 L792 398 H822.5 L804 415.5" stroke-width="2.86" fill="none"/>
<path d="M942 415.5 L921 398 H956 L965 409" stroke-width="2.86" fill="none"/>
<path d="M1312 409 L1323 398 H1353.5 L1335 415.5" stroke-width="2.86" fill="none"/>
<path d="M1473.5 415.5 L1452.5 398 H1487.5 L1496.5 409" stroke-width="2.86" fill="none"/>
<path d="M1021 410.5 L1025 419" stroke-width="2.08" fill="none"/>
<path d="M1035 410.5 L1031 419" stroke-width="2.08" fill="none"/>
<line x1="1020.2" y1="412" x2="1020.2" y2="468" stroke-width="2.0"/>
<line x1="1027.8" y1="418" x2="1027.8" y2="468" stroke-width="1.6"/>
<line x1="1032.4" y1="418" x2="1032.4" y2="468" stroke-width="1.7"/>
<line x1="1020.2" y1="548" x2="1020.2" y2="1271" stroke-width="2.0"/>
<line x1="1027.8" y1="548" x2="1027.8" y2="1271" stroke-width="1.6"/>
<line x1="1032.4" y1="548" x2="1032.4" y2="1271" stroke-width="1.7"/>
<line x1="1020.2" y1="1351" x2="1020.2" y2="1478.3" stroke-width="2.0"/>
<line x1="1027.8" y1="1351" x2="1027.8" y2="1478.3" stroke-width="1.6"/>
<line x1="1032.4" y1="1351" x2="1032.4" y2="1478.3" stroke-width="1.7"/>
<line x1="1020.2" y1="1558.4" x2="1020.2" y2="2365" stroke-width="2.0"/>
<line x1="1027.8" y1="1558.4" x2="1027.8" y2="2365" stroke-width="1.6"/>
<line x1="1032.4" y1="1558.4" x2="1032.4" y2="2365" stroke-width="1.7"/>
<line x1="978" y1="468" x2="1044" y2="468" stroke-width="2.34"/>
<line x1="978" y1="548" x2="1044" y2="548" stroke-width="2.34"/>
<path d="M979 493 H1002.5 V520.4 H979" stroke-width="2.6" fill="none"/>
<line x1="979" y1="519.9" x2="1002.5" y2="519.9" stroke-width="3.9"/>
<line x1="979.5" y1="493" x2="979.5" y2="520.4" stroke-width="3.9"/>
<path d="M1044 493 H1037.7 V520.4 H1044" stroke-width="2.6" fill="none"/>
<line x1="1037.7" y1="519.9" x2="1044" y2="519.9" stroke-width="3.9"/>
<rect x="1028.3" y="580" width="12.1" height="152.8" stroke-width="2.34" fill="#fff"/>
<rect x="1028.3" y="580" width="12.1" height="4" fill="#000" stroke="none"/>
<rect x="1028.3" y="727.8" width="12.1" height="5.0" fill="#000" stroke="none"/>
<line x1="1032.3" y1="584" x2="1032.3" y2="727.8" stroke-width="1.3"/>
<rect x="1028.3" y="1590.4" width="12.1" height="153.2" stroke-width="2.34" fill="#fff"/>
<rect x="1028.3" y="1590.4" width="12.1" height="4.0" fill="#000" stroke="none"/>
<rect x="1028.3" y="1738.6" width="12.1" height="5.0" fill="#000" stroke="none"/>
<line x1="1032.3" y1="1594.4" x2="1032.3" y2="1738.6" stroke-width="1.3"/>
<line x1="1008" y1="1088" x2="1008" y2="1236" stroke-width="1.5"/>
<path d="M1027.8 1110.5 L1008 1089" stroke-width="3.6" fill="none"/>
<path d="M1008 1235 L1027.8 1212.5" stroke-width="3.6" fill="none"/>
<rect x="1002" y="1130.4" width="5.5" height="63.2" stroke-width="1.3" fill="none"/>
<line x1="1008" y1="2101.5" x2="1008" y2="2249.5" stroke-width="1.5"/>
<path d="M1027.8 2124.0 L1008 2102.5" stroke-width="3.6" fill="none"/>
<path d="M1008 2248.5 L1027.8 2226.0" stroke-width="3.6" fill="none"/>
<rect x="1002" y="2143.9" width="5.5" height="63.2" stroke-width="1.3" fill="none"/>
<rect x="976.3" y="1271" width="67.7" height="80" stroke-width="2.6" fill="#fff"/>
<line x1="977" y1="1271" x2="977" y2="1351" stroke-width="4.16"/>
<line x1="976.3" y1="1350.3" x2="1044" y2="1350.3" stroke-width="3.9"/>
<rect x="980" y="1295.7" width="22.5" height="27.1" stroke-width="2.6" fill="none"/>
<line x1="980" y1="1296.5" x2="1002.5" y2="1296.5" stroke-width="4.16"/>
<path d="M1044 1295.7 H1037.7 V1322.8 H1044" stroke-width="2.6" fill="none"/>
<line x1="1037.7" y1="1296.5" x2="1044" y2="1296.5" stroke-width="4.16"/>
<rect x="985" y="1478.3" width="79.5" height="80.1" stroke-width="2.6" fill="#fff"/>
<line x1="1054.3" y1="1478.3" x2="1054.3" y2="1558.4" stroke-width="2.08"/>
<path d="M985 1503 H1002.5 V1531 H985" stroke-width="2.6" fill="none"/>
<rect x="1037.4" y="1503" width="16.9" height="28" stroke-width="2.6" fill="none"/>
<rect x="968" y="1513" width="17" height="27" stroke-width="2.34" fill="none"/>
<line x1="968" y1="1514.5" x2="985" y2="1514.5" stroke-width="4.16"/>
<line x1="968" y1="1528" x2="985" y2="1528" stroke-width="4.16"/>
<rect x="985" y="2282" width="81.25" height="80.5" stroke-width="2.6" fill="#fff"/>
<line x1="1055" y1="2282" x2="1055" y2="2362.5" stroke-width="2.08"/>
<line x1="985" y1="2361.5" x2="1066.25" y2="2361.5" stroke-width="4.16"/>
<path d="M985 2306 H1002.5 V2334 H985" stroke-width="2.6" fill="none"/>
<rect x="1037.4" y="2306" width="17.6" height="28" stroke-width="2.6" fill="none"/>
<rect x="968" y="2299" width="17" height="27" stroke-width="2.34" fill="none"/>
<line x1="968" y1="2300.5" x2="985" y2="2300.5" stroke-width="4.16"/>
<line x1="968" y1="2313" x2="985" y2="2313" stroke-width="4.16"/>
<line x1="1027.5" y1="2362.5" x2="1027.5" y2="2423" stroke-width="1.56"/>
<line x1="1032.5" y1="2362.5" x2="1032.5" y2="2423" stroke-width="1.82"/>
<line x1="501" y1="1413.5" x2="1551" y2="1413.5" stroke-width="2.34"/>
<line x1="501" y1="1420.3" x2="1551" y2="1420.3" stroke-width="1.82"/>
<line x1="501" y1="1426" x2="1551" y2="1426" stroke-width="2.34"/>
<circle cx="1026" cy="1421" r="9.5" stroke-width="1.6" fill="#fff"/>
<path d="M1021 1418 L1026 1427 L1031 1418" stroke-width="1.3" fill="none"/>
<circle cx="1553" cy="1421" r="6" stroke-width="1.5" fill="#fff"/>
<path d="M1550 1418 L1553 1425 L1556 1418" stroke-width="1.17" fill="none"/>
<rect x="800" y="1426" width="142.5" height="7.5" stroke-width="2.08" fill="none"/>
<rect x="1330" y="1426" width="145" height="7.5" stroke-width="2.08" fill="none"/>
<path d="M587.5 1420 L570 1401 H708 L689.5 1420" stroke-width="2.6" fill="none"/>
<rect x="608.5" y="1396" width="59.5" height="5" stroke-width="1.56" fill="none"/>
<path d="M1117.5 1420 L1100 1401 H1238.75 L1220.25 1420" stroke-width="2.6" fill="none"/>
<rect x="1138.5" y="1396" width="60.25" height="5" stroke-width="1.56" fill="none"/>
<path d="M497 1407 L503 1414 L497 1421 L503 1428" stroke-width="1.82" fill="none"/>
<path d="M485 2424.5 H574" stroke-width="2.34" fill="none"/>
<path d="M485 2431.5 H587.5" stroke-width="2.6" fill="none"/>
<path d="M693 2424.5 H1017.5" stroke-width="2.34" fill="none"/>
<path d="M686.25 2431.5 H1017.5" stroke-width="2.6" fill="none"/>
<path d="M587.5 2431.5 L567.5 2412.5 H706.25 L686.25 2431.5" stroke-width="2.6" fill="none"/>
<rect x="607.5" y="2407" width="58.75" height="5.5" stroke-width="1.56" fill="none"/>
<path d="M803.5 2439.5 L808 2433.5 H935 L939.5 2439.5 Z" stroke-width="1.56" fill="#000"/>
<path d="M1036 2426.25 H1111" stroke-width="3.38" fill="none"/>
<path d="M1036 2432 H1120" stroke-width="2.6" fill="none"/>
<path d="M1120 2432 L1098.75 2412 H1237.5 L1218.75 2432" stroke-width="2.6" fill="none"/>
<rect x="1138.75" y="2406.5" width="60.75" height="5.5" stroke-width="1.56" fill="none"/>
<path d="M1227.5 2424.5 H1551" stroke-width="2.34" fill="none"/>
<path d="M1218.75 2432 H1552" stroke-width="2.6" fill="none"/>
<path d="M1017.5 2434 L1020 2424 L1026 2430 L1032 2424 L1036 2431" stroke-width="2.08" fill="none"/>
<line x1="199" y1="1198.75" x2="560" y2="1198.75" stroke-width="5.0"/>
<polygon points="571.0,1198.8 539.0,1208.2 545.0,1198.8 539.0,1189.2" fill="#000" stroke="#000" stroke-width="0.6"/>
<line x1="199" y1="1372.2" x2="775" y2="1372.2" stroke-width="5.0"/>
<path d="M773 1371 L856 1462" stroke-width="3.0" fill="none"/>
<polygon points="861.0,1467.5 832.2,1450.6 843.3,1448.5 846.1,1437.6" fill="#000" stroke="#000" stroke-width="0.6"/>
<line x1="199" y1="1615" x2="530" y2="1615" stroke-width="5.0"/>
<polygon points="547.0,1615.0 515.0,1624.5 521.0,1615.0 515.0,1605.5" fill="#000" stroke="#000" stroke-width="0.6"/>
<line x1="199" y1="1916.5" x2="530" y2="1916.5" stroke-width="3.0"/>
<polygon points="547.0,1916.5 515.0,1926.0 521.0,1916.5 515.0,1907.0" fill="#000" stroke="#000" stroke-width="0.6"/>
<line x1="1845" y1="1373.5" x2="1301.5" y2="1373.5" stroke-width="3.0"/>
<path d="M1303 1373 L1224 1458" stroke-width="2.2" fill="none"/>
<polygon points="1219.0,1463.8 1233.8,1433.8 1236.7,1444.7 1247.7,1446.8" fill="#000" stroke="#000" stroke-width="0.6"/>
<line x1="1845" y1="1621.25" x2="1510" y2="1621.25" stroke-width="3.0"/>
<polygon points="1492.5,1621.2 1524.5,1611.8 1518.5,1621.2 1524.5,1630.8" fill="#000" stroke="#000" stroke-width="0.6"/>
<line x1="866.5" y1="2535" x2="866.5" y2="2390" stroke-width="5.0"/>
<polygon points="866.5,2371.0 876.0,2403.0 866.5,2397.0 857.0,2403.0" fill="#000" stroke="#000" stroke-width="0.6"/>
<line x1="1066.25" y1="2535" x2="1066.25" y2="2026.5" stroke-width="3.0"/>
<path d="M1066.5 2027 L966 1921" stroke-width="2.8" fill="none"/>
<polygon points="961.0,1916.0 989.9,1932.7 978.9,1934.9 976.1,1945.8" fill="#000" stroke="#000" stroke-width="0.6"/>
<path d="M 458.75 2086.25 Q 452.50 2087.50 452.50 2095.00 V 2112.50 Q 452.50 2117.50 448.75 2120.00 Q 446.25 2122.50 446.25 2127.50 V 2213.75 H 416.25 Q 411.75 2214.25 411.75 2220.00 V 2230.00 Q 412.25 2235.00 416.25 2235.50 H 452.50 V 2250.00 Q 453.00 2258.75 458.75 2260.00" stroke-width="2.6" fill="none"/>
<path d="M 416.25 2235.50 H 452.50" stroke-width="3.9" fill="none"/>
<path d="M 1583.75 568.75 Q 1588.75 569.25 1588.75 573.75 V 606.25 H 1623.75 Q 1629.50 607.00 1629.50 617.50 Q 1629.50 627.50 1623.75 628.00 H 1596.25 V 705.00 Q 1596.25 708.75 1593.75 710.00 Q 1591.25 712.50 1591.25 716.25 V 737.50 Q 1590.75 742.00 1583.75 742.50" stroke-width="2.6" fill="none"/>
<path d="M 1583.75 788.00 H 1623.75 Q 1629.50 788.75 1629.50 798.75 Q 1629.50 809.50 1623.75 810.00 H 1583.75" stroke-width="2.6" fill="none"/>
<path d="M 1583.75 810.00 H 1623.75" stroke-width="3.9" fill="none"/>
<path d="M 1583.75 2033.75 H 1623.75 Q 1629.50 2034.50 1629.50 2043.75 Q 1629.50 2053.00 1623.75 2053.75 H 1583.75" stroke-width="2.6" fill="none"/>
<path d="M 1583.75 2213.75 H 1623.75 Q 1629.50 2214.50 1629.50 2225.00 Q 1629.50 2235.75 1623.75 2236.25 H 1583.75" stroke-width="2.6" fill="none"/>
<path d="M 1583.75 2236.25 H 1623.75" stroke-width="3.9" fill="none"/>
<path d="M 1583.75 1948.75 V 2318.75" stroke-width="2.86" fill="none"/>
</svg>
</body></html>
